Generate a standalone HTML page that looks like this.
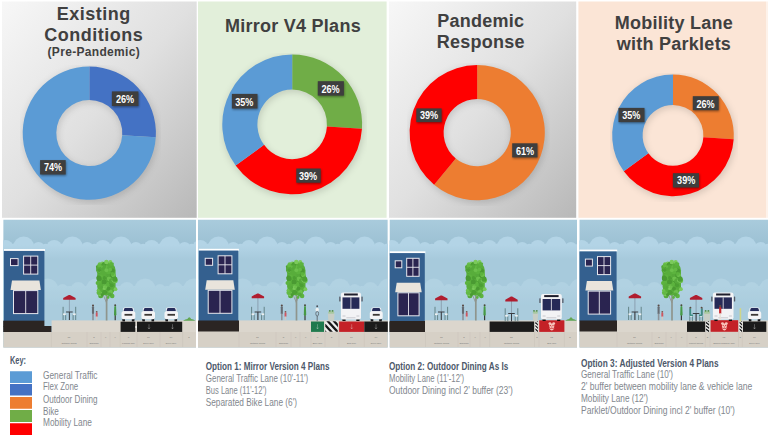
<!DOCTYPE html>
<html><head><meta charset="utf-8"><title>Mobility lane options</title>
<style>
html,body{margin:0;padding:0;background:#fff;}
body{width:768px;height:437px;overflow:hidden;position:relative;font-family:"Liberation Sans",sans-serif;}
svg{position:absolute;left:0;top:0;display:block}
.ttl{position:absolute;text-align:center;font-weight:bold;font-size:18px;line-height:21px;letter-spacing:0.25px;color:#404040;white-space:nowrap}
.ttl small{font-size:12px;line-height:15.6px;display:block;letter-spacing:0.12px}
.lb{font:bold 10.6px "Liberation Sans",sans-serif;fill:#fff}
.bh{font:bold 10.8px "Liberation Sans",sans-serif;fill:#4d586a}
.bt{font:11.5px "Liberation Sans",sans-serif;fill:#82878e}
.dn{font:2.3px "Liberation Sans",sans-serif;fill:#777}
.dl{font:2.3px "Liberation Sans",sans-serif;fill:#777}
</style></head><body>
<svg width="768" height="437" viewBox="0 0 768 437">
<defs>
<filter id="blur" x="-20%" y="-20%" width="140%" height="140%"><feGaussianBlur stdDeviation="3"/></filter>
<filter id="blur1" x="-30%" y="-30%" width="160%" height="160%"><feGaussianBlur stdDeviation="1.2"/></filter>
<linearGradient id="sk0" gradientUnits="userSpaceOnUse" x1="0" y1="220" x2="0" y2="246"><stop offset="0" stop-color="#a9cbdc"/><stop offset="1" stop-color="#9cc0d3"/></linearGradient>
<linearGradient id="sk1" gradientUnits="userSpaceOnUse" x1="0" y1="245" x2="0" y2="335"><stop offset="0" stop-color="#b3d4e6"/><stop offset="0.16" stop-color="#a7cadc"/><stop offset="1" stop-color="#a7cadc"/></linearGradient>
<linearGradient id="sk2" gradientUnits="userSpaceOnUse" x1="0" y1="286" x2="0" y2="326"><stop offset="0" stop-color="#b4d4e4"/><stop offset="0.5" stop-color="#abcdde"/><stop offset="1" stop-color="#abcdde"/></linearGradient>
<linearGradient id="gg" x1="0" y1="0" x2="1" y2="1"><stop offset="0" stop-color="#f7f7f7"/><stop offset="0.5" stop-color="#e0e0e0"/><stop offset="1" stop-color="#b8b8b8"/></linearGradient>
</defs>
<rect width="768" height="437" fill="#fff"/>
<rect x="2" y="1.5" width="194.7" height="216.3" fill="url(#gg)"/>
<rect x="198" y="1.5" width="188.6" height="216.3" fill="#e2efda"/>
<rect x="389" y="1.5" width="187.2" height="216.3" fill="url(#gg)"/>
<rect x="578.4" y="1.5" width="187.6" height="216.3" fill="#fbe5d6"/>
<rect x="766" y="1.5" width="2" height="216.3" fill="#fdf2ea"/>
<circle cx="90.3" cy="135.1" r="49.8" fill="none" stroke="#000" stroke-opacity="0.13" stroke-width="35.599999999999994" filter="url(#blur)"/>
<path d="M89.30 66.50A66.6 66.6 0 0 1 155.77 137.28L122.23 135.17A33 33 0 0 0 89.30 100.10Z" fill="#4472c4"/>
<path d="M155.77 137.28A66.6 66.6 0 1 1 89.30 66.50L89.30 100.10A33 33 0 1 0 122.23 135.17Z" fill="#5b9bd5"/>
<rect x="112.5" y="92.6" width="26.5" height="14.6" fill="#000" fill-opacity="0.4" filter="url(#blur1)"/><rect x="111.9" y="91.4" width="26.5" height="14.6" fill="#3e3e3e"/><text x="116.0" y="102.9" class="lb" textLength="18.2" lengthAdjust="spacingAndGlyphs">26%</text>
<rect x="40.7" y="161.3" width="25.6" height="14.4" fill="#000" fill-opacity="0.4" filter="url(#blur1)"/><rect x="40.1" y="160.1" width="25.6" height="14.4" fill="#3e3e3e"/><text x="43.9" y="170.7" class="lb" textLength="18.2" lengthAdjust="spacingAndGlyphs">74%</text>
<circle cx="293.2" cy="126.4" r="52.35" fill="none" stroke="#000" stroke-opacity="0.13" stroke-width="37.10000000000001" filter="url(#blur)"/>
<path d="M292.20 54.50A69.9 69.9 0 0 1 361.96 128.79L326.93 126.59A34.8 34.8 0 0 0 292.20 89.60Z" fill="#70ad47"/>
<path d="M361.96 128.79A69.9 69.9 0 0 1 235.65 165.49L264.05 144.85A34.8 34.8 0 0 0 326.93 126.59Z" fill="#ff0000"/>
<path d="M235.65 165.49A69.9 69.9 0 0 1 292.20 54.50L292.20 89.60A34.8 34.8 0 0 0 264.05 144.85Z" fill="#5b9bd5"/>
<rect x="318.4" y="82.4" width="26.1" height="14.4" fill="#000" fill-opacity="0.4" filter="url(#blur1)"/><rect x="317.8" y="81.2" width="26.1" height="14.4" fill="#3e3e3e"/><text x="321.5" y="92.7" class="lb" textLength="18.2" lengthAdjust="spacingAndGlyphs">26%</text>
<rect x="232.5" y="95.1" width="25.6" height="14.6" fill="#000" fill-opacity="0.4" filter="url(#blur1)"/><rect x="231.9" y="93.9" width="25.6" height="14.6" fill="#3e3e3e"/><text x="235.2" y="105.5" class="lb" textLength="18.2" lengthAdjust="spacingAndGlyphs">35%</text>
<rect x="296.9" y="169.7" width="24.4" height="14.2" fill="#000" fill-opacity="0.4" filter="url(#blur1)"/><rect x="296.3" y="168.5" width="24.4" height="14.2" fill="#3e3e3e"/><text x="299.0" y="179.8" class="lb" textLength="18.2" lengthAdjust="spacingAndGlyphs">39%</text>
<circle cx="478.2" cy="134.6" r="50.599999999999994" fill="none" stroke="#000" stroke-opacity="0.13" stroke-width="35.99999999999999" filter="url(#blur)"/>
<path d="M477.20 65.00A67.6 67.6 0 1 1 434.11 184.69L455.78 158.49A33.6 33.6 0 1 0 477.20 99.00Z" fill="#ed7d31"/>
<path d="M434.11 184.69A67.6 67.6 0 0 1 477.20 65.00L477.20 99.00A33.6 33.6 0 0 0 455.78 158.49Z" fill="#ff0000"/>
<rect x="416.9" y="109.6" width="25.3" height="13.7" fill="#000" fill-opacity="0.4" filter="url(#blur1)"/><rect x="416.3" y="108.4" width="25.3" height="13.7" fill="#3e3e3e"/><text x="420.0" y="119.3" class="lb" textLength="18.2" lengthAdjust="spacingAndGlyphs">39%</text>
<rect x="512.8" y="144.5" width="25.3" height="14.1" fill="#000" fill-opacity="0.4" filter="url(#blur1)"/><rect x="512.2" y="143.3" width="25.3" height="14.1" fill="#3e3e3e"/><text x="516.0" y="154.5" class="lb" textLength="18.2" lengthAdjust="spacingAndGlyphs">61%</text>
<circle cx="674" cy="137.4" r="45.599999999999994" fill="none" stroke="#000" stroke-opacity="0.13" stroke-width="32.4" filter="url(#blur)"/>
<path d="M673.00 74.60A60.8 60.8 0 0 1 733.68 139.22L703.34 137.31A30.4 30.4 0 0 0 673.00 105.00Z" fill="#ed7d31"/>
<path d="M733.68 139.22A60.8 60.8 0 0 1 623.81 171.14L648.41 153.27A30.4 30.4 0 0 0 703.34 137.31Z" fill="#ff0000"/>
<path d="M623.81 171.14A60.8 60.8 0 0 1 673.00 74.60L673.00 105.00A30.4 30.4 0 0 0 648.41 153.27Z" fill="#5b9bd5"/>
<rect x="693.4" y="97.4" width="25.9" height="14.0" fill="#000" fill-opacity="0.4" filter="url(#blur1)"/><rect x="692.8" y="96.2" width="25.9" height="14.0" fill="#3e3e3e"/><text x="696.4" y="107.6" class="lb" textLength="18.2" lengthAdjust="spacingAndGlyphs">26%</text>
<rect x="619.1" y="109.1" width="26.0" height="14.2" fill="#000" fill-opacity="0.4" filter="url(#blur1)"/><rect x="618.5" y="107.9" width="26.0" height="14.2" fill="#3e3e3e"/><text x="622.2" y="119.3" class="lb" textLength="18.2" lengthAdjust="spacingAndGlyphs">35%</text>
<rect x="673.5" y="174.4" width="26.1" height="14.3" fill="#000" fill-opacity="0.4" filter="url(#blur1)"/><rect x="672.9" y="173.2" width="26.1" height="14.3" fill="#3e3e3e"/><text x="677.1" y="183.8" class="lb" textLength="18.2" lengthAdjust="spacingAndGlyphs">39%</text>
<clipPath id="p3"><rect x="3.2" y="219.8" width="192.8" height="127.6"/></clipPath><g clip-path="url(#p3)"><rect x="3.2" y="219" width="192.8" height="129" fill="url(#sk0)"/><circle cx="-73.7" cy="246.9" r="10.5" fill="#b3d4e6"/><circle cx="-58.9" cy="248.3" r="6.3" fill="#b3d4e6"/><circle cx="-43.2" cy="248.0" r="8.0" fill="#b3d4e6"/><circle cx="-83.2" cy="247.6" r="4.0" fill="#b3d4e6"/><circle cx="-51.7" cy="248.0" r="4.2" fill="#b3d4e6"/><circle cx="-25.0" cy="246.9" r="10.5" fill="#b3d4e6"/><circle cx="-10.2" cy="248.3" r="6.3" fill="#b3d4e6"/><circle cx="5.5" cy="248.0" r="8.0" fill="#b3d4e6"/><circle cx="-34.5" cy="247.6" r="4.0" fill="#b3d4e6"/><circle cx="-3.0" cy="248.0" r="4.2" fill="#b3d4e6"/><circle cx="23.7" cy="246.9" r="10.5" fill="#b3d4e6"/><circle cx="38.5" cy="248.3" r="6.3" fill="#b3d4e6"/><circle cx="54.2" cy="248.0" r="8.0" fill="#b3d4e6"/><circle cx="14.2" cy="247.6" r="4.0" fill="#b3d4e6"/><circle cx="45.7" cy="248.0" r="4.2" fill="#b3d4e6"/><circle cx="72.4" cy="246.9" r="10.5" fill="#b3d4e6"/><circle cx="87.2" cy="248.3" r="6.3" fill="#b3d4e6"/><circle cx="102.9" cy="248.0" r="8.0" fill="#b3d4e6"/><circle cx="62.9" cy="247.6" r="4.0" fill="#b3d4e6"/><circle cx="94.4" cy="248.0" r="4.2" fill="#b3d4e6"/><circle cx="121.1" cy="246.9" r="10.5" fill="#b3d4e6"/><circle cx="135.9" cy="248.3" r="6.3" fill="#b3d4e6"/><circle cx="151.6" cy="248.0" r="8.0" fill="#b3d4e6"/><circle cx="111.6" cy="247.6" r="4.0" fill="#b3d4e6"/><circle cx="143.1" cy="248.0" r="4.2" fill="#b3d4e6"/><circle cx="169.8" cy="246.9" r="10.5" fill="#b3d4e6"/><circle cx="184.6" cy="248.3" r="6.3" fill="#b3d4e6"/><circle cx="200.3" cy="248.0" r="8.0" fill="#b3d4e6"/><circle cx="160.3" cy="247.6" r="4.0" fill="#b3d4e6"/><circle cx="191.8" cy="248.0" r="4.2" fill="#b3d4e6"/><circle cx="218.5" cy="246.9" r="10.5" fill="#b3d4e6"/><circle cx="233.3" cy="248.3" r="6.3" fill="#b3d4e6"/><circle cx="249.0" cy="248.0" r="8.0" fill="#b3d4e6"/><circle cx="209.0" cy="247.6" r="4.0" fill="#b3d4e6"/><circle cx="240.5" cy="248.0" r="4.2" fill="#b3d4e6"/><rect x="3.2" y="245" width="192.8" height="90" fill="url(#sk1)"/><g opacity="0.75"><circle cx="-49.7" cy="289.0" r="10.5" fill="#b4d4e4"/><circle cx="-34.9" cy="290.4" r="6.3" fill="#b4d4e4"/><circle cx="-19.2" cy="290.1" r="8.0" fill="#b4d4e4"/><circle cx="-59.2" cy="289.7" r="4.0" fill="#b4d4e4"/><circle cx="-27.7" cy="290.1" r="4.2" fill="#b4d4e4"/><circle cx="-1.0" cy="289.0" r="10.5" fill="#b4d4e4"/><circle cx="13.8" cy="290.4" r="6.3" fill="#b4d4e4"/><circle cx="29.5" cy="290.1" r="8.0" fill="#b4d4e4"/><circle cx="-10.5" cy="289.7" r="4.0" fill="#b4d4e4"/><circle cx="21.0" cy="290.1" r="4.2" fill="#b4d4e4"/><circle cx="47.7" cy="289.0" r="10.5" fill="#b4d4e4"/><circle cx="62.5" cy="290.4" r="6.3" fill="#b4d4e4"/><circle cx="78.2" cy="290.1" r="8.0" fill="#b4d4e4"/><circle cx="38.2" cy="289.7" r="4.0" fill="#b4d4e4"/><circle cx="69.7" cy="290.1" r="4.2" fill="#b4d4e4"/><circle cx="96.4" cy="289.0" r="10.5" fill="#b4d4e4"/><circle cx="111.2" cy="290.4" r="6.3" fill="#b4d4e4"/><circle cx="126.9" cy="290.1" r="8.0" fill="#b4d4e4"/><circle cx="86.9" cy="289.7" r="4.0" fill="#b4d4e4"/><circle cx="118.4" cy="290.1" r="4.2" fill="#b4d4e4"/><circle cx="145.1" cy="289.0" r="10.5" fill="#b4d4e4"/><circle cx="159.9" cy="290.4" r="6.3" fill="#b4d4e4"/><circle cx="175.6" cy="290.1" r="8.0" fill="#b4d4e4"/><circle cx="135.6" cy="289.7" r="4.0" fill="#b4d4e4"/><circle cx="167.1" cy="290.1" r="4.2" fill="#b4d4e4"/><circle cx="193.8" cy="289.0" r="10.5" fill="#b4d4e4"/><circle cx="208.6" cy="290.4" r="6.3" fill="#b4d4e4"/><circle cx="224.3" cy="290.1" r="8.0" fill="#b4d4e4"/><circle cx="184.3" cy="289.7" r="4.0" fill="#b4d4e4"/><circle cx="215.8" cy="290.1" r="4.2" fill="#b4d4e4"/><rect x="3.2" y="286.5" width="192.8" height="40" fill="url(#sk2)"/></g><rect x="51.6" y="320.4" width="144.4" height="12" fill="#dbd6cd"/><rect x="3.2" y="332" width="192.8" height="16" fill="#d6d0c6"/><rect x="3.9" y="249.1" width="41.1" height="2" fill="#fff"/><rect x="3.9" y="250.9" width="40.5" height="70.10000000000001" fill="#34608f"/><rect x="10.5" y="258.6" width="7.6" height="7.0" fill="#2a2450" stroke="#e8e8ee" stroke-width="1"/><rect x="23.6" y="256.1" width="14.2" height="18.0" fill="#2a2450" stroke="#e8e8ee" stroke-width="1"/><path d="M30.7 256.1V274.1M23.6 265.1H37.8" stroke="#e8e8ee" stroke-width="0.9"/><rect x="13.5" y="290.6" width="24.3" height="23" fill="#2a2450" stroke="#e8e8ee" stroke-width="1"/><path d="M25.7 290.6v23" stroke="#e8e8ee" stroke-width="0.9"/><path d="M12.0 280.6H39.4L40.9 290.1H10.5Z" fill="#e9e4dc"/><rect x="3" y="320.7" width="41.4" height="5.8" fill="#2b2523"/><rect x="3" y="326" width="48.4" height="6.0" fill="#2b2523"/><path d="M69.4 299V320" stroke="#8496a6" stroke-width="0.8"/><path d="M63.2 298.1L68.80000000000001 295H70.0L75.60000000000001 298.1V299.8H63.2Z" fill="#b01d2f"/><path d="M66.10000000000001 312H72.7" stroke="#3a3d42" stroke-width="1"/><path d="M69.4 312V320" stroke="#3a3d42" stroke-width="1"/><path d="M63.10000000000001 306.8V320M65.7 314.6V320" stroke="#57787a" stroke-width="0.85" fill="none"/><rect x="63.1" y="313.4" width="2.6" height="1.7" fill="#eef0f0"/><path d="M75.7 306.8V320M73.10000000000001 314.6V320" stroke="#57787a" stroke-width="0.85" fill="none"/><rect x="73.1" y="313.4" width="2.6" height="1.7" fill="#eef0f0"/><circle cx="93" cy="305.6" r="1.05" fill="#5a4a44"/><rect x="91.95" y="306.6" width="2.1" height="7.4" rx="0.6" fill="#666b72"/><rect x="92.2" y="313.6" width="1.6" height="6.6" fill="#8d9298"/><circle cx="96.7" cy="311.8" r="0.9" fill="#7a5546"/><rect x="95.75" y="312.6" width="1.9" height="4.2" rx="0.5" fill="#cf5560"/><rect x="96.05" y="316.6" width="1.3" height="3.2" fill="#dcc4bb"/><path d="M106.60000000000001 320.6V290" stroke="#8f958d" stroke-width="1.7"/><path d="M106.60000000000001 303L101.60000000000001 291M106.60000000000001 301.5L111.0 291" stroke="#8f958d" stroke-width="0.9" fill="none"/><rect x="97.2" y="261.5" width="18.4" height="34" rx="8.5" ry="9" fill="#58ad3b"/><circle cx="105.5" cy="281.7" r="2.6" fill="#7bca5b"/><circle cx="105.5" cy="292.3" r="1.6" fill="#4a9a32"/><circle cx="106.6" cy="284.2" r="2.4" fill="#4c9f33"/><circle cx="105.4" cy="266.6" r="2.1" fill="#63b944"/><circle cx="108.9" cy="282.9" r="1.9" fill="#7bca5b"/><circle cx="109.3" cy="283.7" r="1.5" fill="#4c9f33"/><circle cx="112.6" cy="263.8" r="1.3" fill="#5cb33e"/><circle cx="108.3" cy="289.5" r="1.8" fill="#55a93a"/><circle cx="112.8" cy="280.2" r="2.2" fill="#7bca5b"/><circle cx="109.3" cy="276.1" r="2.1" fill="#4a9a32"/><circle cx="98.6" cy="270.6" r="2.4" fill="#55a93a"/><circle cx="102.4" cy="264.0" r="2.4" fill="#7bca5b"/><circle cx="99.0" cy="272.0" r="1.4" fill="#4c9f33"/><circle cx="100.9" cy="294.3" r="2.0" fill="#63b944"/><circle cx="104.5" cy="264.1" r="2.2" fill="#4a9a32"/><circle cx="109.7" cy="273.6" r="1.7" fill="#4c9f33"/><circle cx="115.1" cy="288.8" r="1.5" fill="#5cb33e"/><circle cx="110.3" cy="261.9" r="2.0" fill="#7bca5b"/><circle cx="100.3" cy="281.6" r="1.9" fill="#5cb33e"/><circle cx="115.5" cy="289.2" r="1.9" fill="#7bca5b"/><circle cx="99.2" cy="276.6" r="1.6" fill="#6cc04c"/><circle cx="108.1" cy="297.4" r="1.3" fill="#5cb33e"/><circle cx="104.4" cy="292.3" r="2.2" fill="#4c9f33"/><circle cx="97.8" cy="266.8" r="1.9" fill="#4c9f33"/><circle cx="111.5" cy="273.3" r="1.7" fill="#4c9f33"/><circle cx="98.4" cy="269.0" r="2.2" fill="#4c9f33"/><circle cx="108.3" cy="274.9" r="1.9" fill="#55a93a"/><circle cx="106.1" cy="282.2" r="2.5" fill="#5cb33e"/><circle cx="108.8" cy="272.7" r="1.6" fill="#55a93a"/><circle cx="101.7" cy="268.3" r="2.3" fill="#55a93a"/><circle cx="100.7" cy="295.7" r="2.5" fill="#55a93a"/><circle cx="99.1" cy="279.9" r="1.7" fill="#63b944"/><circle cx="110.2" cy="270.8" r="2.5" fill="#55a93a"/><circle cx="106.2" cy="280.2" r="2.6" fill="#4c9f33"/><circle cx="99.4" cy="278.8" r="2.2" fill="#55a93a"/><circle cx="108.5" cy="271.6" r="2.6" fill="#5cb33e"/><circle cx="111.1" cy="264.0" r="1.9" fill="#5cb33e"/><circle cx="98.1" cy="267.8" r="1.8" fill="#55a93a"/><circle cx="99.6" cy="277.7" r="1.8" fill="#63b944"/><circle cx="110.0" cy="282.5" r="1.5" fill="#4c9f33"/><circle cx="114.4" cy="278.6" r="1.8" fill="#6cc04c"/><circle cx="109.0" cy="278.9" r="2.3" fill="#6cc04c"/><circle cx="99.6" cy="264.1" r="1.9" fill="#6cc04c"/><circle cx="110.9" cy="293.9" r="2.3" fill="#63b944"/><circle cx="103.4" cy="264.6" r="2.0" fill="#4c9f33"/><circle cx="113.4" cy="276.5" r="2.4" fill="#4a9a32"/><circle cx="106.4" cy="262.0" r="2.2" fill="#7bca5b"/><circle cx="108.0" cy="283.4" r="1.4" fill="#63b944"/><circle cx="99.2" cy="270.8" r="1.9" fill="#6cc04c"/><circle cx="104.3" cy="288.0" r="2.1" fill="#7bca5b"/><circle cx="105.7" cy="281.0" r="2.0" fill="#55a93a"/><circle cx="97.6" cy="283.1" r="2.0" fill="#5cb33e"/><circle cx="111.7" cy="285.3" r="2.0" fill="#4c9f33"/><circle cx="103.9" cy="266.7" r="2.2" fill="#55a93a"/><circle cx="100.2" cy="294.1" r="2.2" fill="#7bca5b"/><circle cx="106.4" cy="270.2" r="1.9" fill="#6cc04c"/><circle cx="100.7" cy="277.0" r="2.4" fill="#5cb33e"/><circle cx="113.5" cy="275.3" r="2.1" fill="#6cc04c"/><circle cx="100.9" cy="266.3" r="1.8" fill="#4a9a32"/><circle cx="99.1" cy="278.5" r="2.6" fill="#4a9a32"/><circle cx="104.8" cy="284.0" r="2.0" fill="#6cc04c"/><circle cx="110.5" cy="291.8" r="2.2" fill="#6cc04c"/><circle cx="110.3" cy="282.0" r="1.7" fill="#4a9a32"/><circle cx="107.6" cy="284.6" r="1.9" fill="#5cb33e"/><circle cx="101.5" cy="266.6" r="1.4" fill="#63b944"/><circle cx="99.2" cy="265.4" r="2.0" fill="#63b944"/><circle cx="112.2" cy="296.0" r="2.3" fill="#5cb33e"/><circle cx="112.5" cy="270.7" r="2.3" fill="#4a9a32"/><circle cx="105.9" cy="287.2" r="1.6" fill="#6cc04c"/><circle cx="111.6" cy="280.9" r="2.6" fill="#55a93a"/><circle cx="108.6" cy="288.7" r="1.9" fill="#4a9a32"/><circle cx="110.2" cy="269.6" r="1.9" fill="#63b944"/><circle cx="104.3" cy="277.7" r="1.6" fill="#4c9f33"/><circle cx="104.1" cy="282.0" r="2.5" fill="#4a9a32"/><circle cx="112.4" cy="273.9" r="1.8" fill="#5cb33e"/><circle cx="98.9" cy="292.7" r="2.4" fill="#63b944"/><circle cx="99.3" cy="270.2" r="1.8" fill="#4c9f33"/><circle cx="115.4" cy="280.8" r="2.4" fill="#6cc04c"/><circle cx="101.9" cy="287.4" r="1.3" fill="#55a93a"/><circle cx="98.6" cy="277.4" r="2.1" fill="#4a9a32"/><circle cx="102.2" cy="294.6" r="1.6" fill="#4a9a32"/><circle cx="98.2" cy="290.3" r="1.5" fill="#6cc04c"/><circle cx="109.9" cy="294.5" r="2.0" fill="#55a93a"/><circle cx="113.9" cy="280.2" r="2.2" fill="#7bca5b"/><circle cx="114.8" cy="279.2" r="2.6" fill="#4c9f33"/><circle cx="115.2" cy="305.2" r="1" fill="#4a4a3a"/><path d="M114.3 306.4Q115.2 305.6 116.10000000000001 306.4L116.4 314.5L115.7 316H114.7L114.0 314.5Z" fill="#479a45"/><rect x="114.60000000000001" y="315.6" width="1.2" height="4.6" fill="#3a3a36"/><rect x="120.6" y="321.7" width="14.7" height="10.2" fill="#1b1b1b"/><rect x="137" y="321.7" width="45.2" height="10.2" fill="#1b1b1b"/><rect x="135.3" y="326.2" width="1.7" height="1.6" fill="#f4f4f4"/><path d="M149 324.2v4.6M148 327.6l1 1.4l1-1.4" stroke="#e6e6e6" stroke-width="0.5" stroke-opacity="0.6" fill="none"/><path d="M172.5 324.2v4.6M171.5 327.6l1 1.4l1-1.4" stroke="#e6e6e6" stroke-width="0.5" stroke-opacity="0.6" fill="none"/><rect x="122.4" y="318" width="2.6" height="3.4" fill="#15161a"/><rect x="131.8" y="318" width="2.6" height="3.4" fill="#15161a"/><rect x="123.0" y="307.5" width="10.8" height="6" rx="1.6" fill="#eef0f4"/><path d="M123.6 311.3L124.1 308.9Q124.3 308.1 125.3 308.1H131.5Q132.5 308.1 132.7 308.9L133.2 311.3Z" fill="#252c5a"/><rect x="121.5" y="311.2" width="13.8" height="8" rx="1.9" fill="#f4f4f6"/><rect x="124.5" y="313.9" width="7.8" height="1.8" fill="#3c3836"/><rect x="142.3" y="318" width="2.6" height="3.4" fill="#15161a"/><rect x="151.5" y="318" width="2.6" height="3.4" fill="#15161a"/><rect x="142.9" y="307.5" width="10.6" height="6" rx="1.6" fill="#eef0f4"/><path d="M143.5 311.3L144.0 308.9Q144.2 308.1 145.2 308.1H151.2Q152.2 308.1 152.4 308.9L152.9 311.3Z" fill="#252c5a"/><rect x="141.4" y="311.2" width="13.6" height="8" rx="1.9" fill="#f4f4f6"/><rect x="144.4" y="313.9" width="7.6" height="1.8" fill="#3c3836"/><rect x="165.4" y="318" width="2.6" height="3.4" fill="#15161a"/><rect x="174.5" y="318" width="2.6" height="3.4" fill="#15161a"/><rect x="166.0" y="307.5" width="10.5" height="6" rx="1.6" fill="#eef0f4"/><path d="M166.6 311.3L167.1 308.9Q167.3 308.1 168.3 308.1H174.2Q175.2 308.1 175.4 308.9L175.9 311.3Z" fill="#252c5a"/><rect x="164.5" y="311.2" width="13.5" height="8" rx="1.9" fill="#f4f4f6"/><rect x="167.5" y="313.9" width="7.5" height="1.8" fill="#3c3836"/><path d="M183.0 320.7Q185.5 319.4 187.4 319Q189.3 315.6 191.2 319Q193.1 319.4 195.6 320.7Z" fill="#62a652"/><path d="M51.4 332V347" stroke="#c9c3b8" stroke-width="0.5"/><path d="M87 332V347" stroke="#c9c3b8" stroke-width="0.5"/><path d="M101 332V347" stroke="#c9c3b8" stroke-width="0.5"/><path d="M110 332V347" stroke="#c9c3b8" stroke-width="0.5"/><path d="M120.2 332V347" stroke="#c9c3b8" stroke-width="0.5"/><path d="M137 332V347" stroke="#c9c3b8" stroke-width="0.5"/><path d="M160 332V347" stroke="#c9c3b8" stroke-width="0.5"/><path d="M182.6 332V347" stroke="#c9c3b8" stroke-width="0.5"/><text x="69" y="338" class="dn" text-anchor="middle">15'</text><text x="69" y="343.6" class="dl" text-anchor="middle">Outdoor dining</text><text x="94" y="338" class="dn" text-anchor="middle">8'</text><text x="94" y="343.6" class="dl" text-anchor="middle">Sidewalk</text><text x="105.5" y="338" class="dn" text-anchor="middle">4'</text><text x="115" y="338" class="dn" text-anchor="middle">4'</text><text x="128.5" y="338" class="dn" text-anchor="middle">7'</text><text x="128.5" y="343.6" class="dl" text-anchor="middle">Parking lane</text><text x="148.5" y="338" class="dn" text-anchor="middle">10'</text><text x="148.5" y="343.6" class="dl" text-anchor="middle">Drive lane</text><text x="171" y="338" class="dn" text-anchor="middle">10'</text><text x="171" y="343.6" class="dl" text-anchor="middle">Drive lane</text><text x="189" y="338" class="dn" text-anchor="middle">5'</text></g><clipPath id="p198"><rect x="198" y="219.8" width="189.8" height="127.6"/></clipPath><g clip-path="url(#p198)"><rect x="198" y="219" width="189.8" height="129" fill="url(#sk0)"/><circle cx="121.1" cy="246.9" r="10.5" fill="#b3d4e6"/><circle cx="135.9" cy="248.3" r="6.3" fill="#b3d4e6"/><circle cx="151.6" cy="248.0" r="8.0" fill="#b3d4e6"/><circle cx="111.6" cy="247.6" r="4.0" fill="#b3d4e6"/><circle cx="143.1" cy="248.0" r="4.2" fill="#b3d4e6"/><circle cx="169.8" cy="246.9" r="10.5" fill="#b3d4e6"/><circle cx="184.6" cy="248.3" r="6.3" fill="#b3d4e6"/><circle cx="200.3" cy="248.0" r="8.0" fill="#b3d4e6"/><circle cx="160.3" cy="247.6" r="4.0" fill="#b3d4e6"/><circle cx="191.8" cy="248.0" r="4.2" fill="#b3d4e6"/><circle cx="218.5" cy="246.9" r="10.5" fill="#b3d4e6"/><circle cx="233.3" cy="248.3" r="6.3" fill="#b3d4e6"/><circle cx="249.0" cy="248.0" r="8.0" fill="#b3d4e6"/><circle cx="209.0" cy="247.6" r="4.0" fill="#b3d4e6"/><circle cx="240.5" cy="248.0" r="4.2" fill="#b3d4e6"/><circle cx="267.2" cy="246.9" r="10.5" fill="#b3d4e6"/><circle cx="282.0" cy="248.3" r="6.3" fill="#b3d4e6"/><circle cx="297.7" cy="248.0" r="8.0" fill="#b3d4e6"/><circle cx="257.7" cy="247.6" r="4.0" fill="#b3d4e6"/><circle cx="289.2" cy="248.0" r="4.2" fill="#b3d4e6"/><circle cx="315.9" cy="246.9" r="10.5" fill="#b3d4e6"/><circle cx="330.7" cy="248.3" r="6.3" fill="#b3d4e6"/><circle cx="346.4" cy="248.0" r="8.0" fill="#b3d4e6"/><circle cx="306.4" cy="247.6" r="4.0" fill="#b3d4e6"/><circle cx="337.9" cy="248.0" r="4.2" fill="#b3d4e6"/><circle cx="364.6" cy="246.9" r="10.5" fill="#b3d4e6"/><circle cx="379.4" cy="248.3" r="6.3" fill="#b3d4e6"/><circle cx="395.1" cy="248.0" r="8.0" fill="#b3d4e6"/><circle cx="355.1" cy="247.6" r="4.0" fill="#b3d4e6"/><circle cx="386.6" cy="248.0" r="4.2" fill="#b3d4e6"/><circle cx="413.3" cy="246.9" r="10.5" fill="#b3d4e6"/><circle cx="428.1" cy="248.3" r="6.3" fill="#b3d4e6"/><circle cx="443.8" cy="248.0" r="8.0" fill="#b3d4e6"/><circle cx="403.8" cy="247.6" r="4.0" fill="#b3d4e6"/><circle cx="435.3" cy="248.0" r="4.2" fill="#b3d4e6"/><rect x="198" y="245" width="189.8" height="90" fill="url(#sk1)"/><g opacity="0.75"><circle cx="145.1" cy="289.0" r="10.5" fill="#b4d4e4"/><circle cx="159.9" cy="290.4" r="6.3" fill="#b4d4e4"/><circle cx="175.6" cy="290.1" r="8.0" fill="#b4d4e4"/><circle cx="135.6" cy="289.7" r="4.0" fill="#b4d4e4"/><circle cx="167.1" cy="290.1" r="4.2" fill="#b4d4e4"/><circle cx="193.8" cy="289.0" r="10.5" fill="#b4d4e4"/><circle cx="208.6" cy="290.4" r="6.3" fill="#b4d4e4"/><circle cx="224.3" cy="290.1" r="8.0" fill="#b4d4e4"/><circle cx="184.3" cy="289.7" r="4.0" fill="#b4d4e4"/><circle cx="215.8" cy="290.1" r="4.2" fill="#b4d4e4"/><circle cx="242.5" cy="289.0" r="10.5" fill="#b4d4e4"/><circle cx="257.3" cy="290.4" r="6.3" fill="#b4d4e4"/><circle cx="273.0" cy="290.1" r="8.0" fill="#b4d4e4"/><circle cx="233.0" cy="289.7" r="4.0" fill="#b4d4e4"/><circle cx="264.5" cy="290.1" r="4.2" fill="#b4d4e4"/><circle cx="291.2" cy="289.0" r="10.5" fill="#b4d4e4"/><circle cx="306.0" cy="290.4" r="6.3" fill="#b4d4e4"/><circle cx="321.7" cy="290.1" r="8.0" fill="#b4d4e4"/><circle cx="281.7" cy="289.7" r="4.0" fill="#b4d4e4"/><circle cx="313.2" cy="290.1" r="4.2" fill="#b4d4e4"/><circle cx="339.9" cy="289.0" r="10.5" fill="#b4d4e4"/><circle cx="354.7" cy="290.4" r="6.3" fill="#b4d4e4"/><circle cx="370.4" cy="290.1" r="8.0" fill="#b4d4e4"/><circle cx="330.4" cy="289.7" r="4.0" fill="#b4d4e4"/><circle cx="361.9" cy="290.1" r="4.2" fill="#b4d4e4"/><circle cx="388.6" cy="289.0" r="10.5" fill="#b4d4e4"/><circle cx="403.4" cy="290.4" r="6.3" fill="#b4d4e4"/><circle cx="419.1" cy="290.1" r="8.0" fill="#b4d4e4"/><circle cx="379.1" cy="289.7" r="4.0" fill="#b4d4e4"/><circle cx="410.6" cy="290.1" r="4.2" fill="#b4d4e4"/><rect x="198" y="286.5" width="189.8" height="40" fill="url(#sk2)"/></g><rect x="198" y="320.4" width="189.8" height="12" fill="#dbd6cd"/><rect x="198" y="332" width="189.8" height="16" fill="#d6d0c6"/><rect x="198.8" y="248.8" width="40.1" height="2" fill="#fff"/><rect x="198.8" y="250.60000000000002" width="39.5" height="70.39999999999999" fill="#34608f"/><rect x="205.2" y="258.3" width="7.4" height="7.0" fill="#2a2450" stroke="#e8e8ee" stroke-width="1"/><rect x="218.1" y="255.8" width="13.8" height="18.0" fill="#2a2450" stroke="#e8e8ee" stroke-width="1"/><path d="M225.0 255.8V273.8M218.1 264.8H231.9" stroke="#e8e8ee" stroke-width="0.9"/><rect x="208.2" y="290.3" width="23.7" height="23" fill="#2a2450" stroke="#e8e8ee" stroke-width="1"/><path d="M220.0 290.3v23" stroke="#e8e8ee" stroke-width="0.9"/><path d="M206.7 280.3H233.3L234.8 289.8H205.2Z" fill="#e9e4dc"/><rect x="198" y="320.5" width="41.0" height="11.0" fill="#2b2523"/><path d="M257.9 297.4V320" stroke="#8496a6" stroke-width="0.8"/><path d="M251.7 296.5L257.29999999999995 293.4H258.5L264.09999999999997 296.5V298.2H251.7Z" fill="#b01d2f"/><path d="M254.59999999999997 312H261.2" stroke="#3a3d42" stroke-width="1"/><path d="M257.9 312V320" stroke="#3a3d42" stroke-width="1"/><path d="M251.59999999999997 306.8V320M254.2 314.6V320" stroke="#57787a" stroke-width="0.85" fill="none"/><rect x="251.6" y="313.4" width="2.6" height="1.7" fill="#eef0f0"/><path d="M264.2 306.8V320M261.59999999999997 314.6V320" stroke="#57787a" stroke-width="0.85" fill="none"/><rect x="261.6" y="313.4" width="2.6" height="1.7" fill="#eef0f0"/><circle cx="281.8" cy="305.6" r="1.05" fill="#5a4a44"/><rect x="280.75" y="306.6" width="2.1" height="7.4" rx="0.6" fill="#666b72"/><rect x="281.0" y="313.6" width="1.6" height="6.6" fill="#8d9298"/><circle cx="285.5" cy="311.8" r="0.9" fill="#7a5546"/><rect x="284.55" y="312.6" width="1.9" height="4.2" rx="0.5" fill="#cf5560"/><rect x="284.85" y="316.6" width="1.3" height="3.2" fill="#dcc4bb"/><path d="M296.5 320.6V290" stroke="#8f958d" stroke-width="1.7"/><path d="M296.5 303L291.5 291M296.5 301.5L300.90000000000003 291" stroke="#8f958d" stroke-width="0.9" fill="none"/><rect x="287.1" y="261.5" width="18.4" height="34" rx="8.5" ry="9" fill="#58ad3b"/><circle cx="295.4" cy="281.7" r="2.6" fill="#7bca5b"/><circle cx="295.4" cy="292.3" r="1.6" fill="#4a9a32"/><circle cx="296.5" cy="284.2" r="2.4" fill="#4c9f33"/><circle cx="295.3" cy="266.6" r="2.1" fill="#63b944"/><circle cx="298.8" cy="282.9" r="1.9" fill="#7bca5b"/><circle cx="299.2" cy="283.7" r="1.5" fill="#4c9f33"/><circle cx="302.5" cy="263.8" r="1.3" fill="#5cb33e"/><circle cx="298.2" cy="289.5" r="1.8" fill="#55a93a"/><circle cx="302.7" cy="280.2" r="2.2" fill="#7bca5b"/><circle cx="299.2" cy="276.1" r="2.1" fill="#4a9a32"/><circle cx="288.5" cy="270.6" r="2.4" fill="#55a93a"/><circle cx="292.3" cy="264.0" r="2.4" fill="#7bca5b"/><circle cx="288.9" cy="272.0" r="1.4" fill="#4c9f33"/><circle cx="290.8" cy="294.3" r="2.0" fill="#63b944"/><circle cx="294.4" cy="264.1" r="2.2" fill="#4a9a32"/><circle cx="299.6" cy="273.6" r="1.7" fill="#4c9f33"/><circle cx="305.0" cy="288.8" r="1.5" fill="#5cb33e"/><circle cx="300.2" cy="261.9" r="2.0" fill="#7bca5b"/><circle cx="290.2" cy="281.6" r="1.9" fill="#5cb33e"/><circle cx="305.4" cy="289.2" r="1.9" fill="#7bca5b"/><circle cx="289.1" cy="276.6" r="1.6" fill="#6cc04c"/><circle cx="298.0" cy="297.4" r="1.3" fill="#5cb33e"/><circle cx="294.3" cy="292.3" r="2.2" fill="#4c9f33"/><circle cx="287.7" cy="266.8" r="1.9" fill="#4c9f33"/><circle cx="301.4" cy="273.3" r="1.7" fill="#4c9f33"/><circle cx="288.3" cy="269.0" r="2.2" fill="#4c9f33"/><circle cx="298.2" cy="274.9" r="1.9" fill="#55a93a"/><circle cx="296.0" cy="282.2" r="2.5" fill="#5cb33e"/><circle cx="298.7" cy="272.7" r="1.6" fill="#55a93a"/><circle cx="291.6" cy="268.3" r="2.3" fill="#55a93a"/><circle cx="290.6" cy="295.7" r="2.5" fill="#55a93a"/><circle cx="289.0" cy="279.9" r="1.7" fill="#63b944"/><circle cx="300.1" cy="270.8" r="2.5" fill="#55a93a"/><circle cx="296.1" cy="280.2" r="2.6" fill="#4c9f33"/><circle cx="289.3" cy="278.8" r="2.2" fill="#55a93a"/><circle cx="298.4" cy="271.6" r="2.6" fill="#5cb33e"/><circle cx="301.0" cy="264.0" r="1.9" fill="#5cb33e"/><circle cx="288.0" cy="267.8" r="1.8" fill="#55a93a"/><circle cx="289.5" cy="277.7" r="1.8" fill="#63b944"/><circle cx="299.9" cy="282.5" r="1.5" fill="#4c9f33"/><circle cx="304.3" cy="278.6" r="1.8" fill="#6cc04c"/><circle cx="298.9" cy="278.9" r="2.3" fill="#6cc04c"/><circle cx="289.5" cy="264.1" r="1.9" fill="#6cc04c"/><circle cx="300.8" cy="293.9" r="2.3" fill="#63b944"/><circle cx="293.3" cy="264.6" r="2.0" fill="#4c9f33"/><circle cx="303.3" cy="276.5" r="2.4" fill="#4a9a32"/><circle cx="296.3" cy="262.0" r="2.2" fill="#7bca5b"/><circle cx="297.9" cy="283.4" r="1.4" fill="#63b944"/><circle cx="289.1" cy="270.8" r="1.9" fill="#6cc04c"/><circle cx="294.2" cy="288.0" r="2.1" fill="#7bca5b"/><circle cx="295.6" cy="281.0" r="2.0" fill="#55a93a"/><circle cx="287.5" cy="283.1" r="2.0" fill="#5cb33e"/><circle cx="301.6" cy="285.3" r="2.0" fill="#4c9f33"/><circle cx="293.8" cy="266.7" r="2.2" fill="#55a93a"/><circle cx="290.1" cy="294.1" r="2.2" fill="#7bca5b"/><circle cx="296.3" cy="270.2" r="1.9" fill="#6cc04c"/><circle cx="290.6" cy="277.0" r="2.4" fill="#5cb33e"/><circle cx="303.4" cy="275.3" r="2.1" fill="#6cc04c"/><circle cx="290.8" cy="266.3" r="1.8" fill="#4a9a32"/><circle cx="289.0" cy="278.5" r="2.6" fill="#4a9a32"/><circle cx="294.7" cy="284.0" r="2.0" fill="#6cc04c"/><circle cx="300.4" cy="291.8" r="2.2" fill="#6cc04c"/><circle cx="300.2" cy="282.0" r="1.7" fill="#4a9a32"/><circle cx="297.5" cy="284.6" r="1.9" fill="#5cb33e"/><circle cx="291.4" cy="266.6" r="1.4" fill="#63b944"/><circle cx="289.1" cy="265.4" r="2.0" fill="#63b944"/><circle cx="302.1" cy="296.0" r="2.3" fill="#5cb33e"/><circle cx="302.4" cy="270.7" r="2.3" fill="#4a9a32"/><circle cx="295.8" cy="287.2" r="1.6" fill="#6cc04c"/><circle cx="301.5" cy="280.9" r="2.6" fill="#55a93a"/><circle cx="298.5" cy="288.7" r="1.9" fill="#4a9a32"/><circle cx="300.1" cy="269.6" r="1.9" fill="#63b944"/><circle cx="294.2" cy="277.7" r="1.6" fill="#4c9f33"/><circle cx="294.0" cy="282.0" r="2.5" fill="#4a9a32"/><circle cx="302.3" cy="273.9" r="1.8" fill="#5cb33e"/><circle cx="288.8" cy="292.7" r="2.4" fill="#63b944"/><circle cx="289.2" cy="270.2" r="1.8" fill="#4c9f33"/><circle cx="305.3" cy="280.8" r="2.4" fill="#6cc04c"/><circle cx="291.8" cy="287.4" r="1.3" fill="#55a93a"/><circle cx="288.5" cy="277.4" r="2.1" fill="#4a9a32"/><circle cx="292.1" cy="294.6" r="1.6" fill="#4a9a32"/><circle cx="288.1" cy="290.3" r="1.5" fill="#6cc04c"/><circle cx="299.8" cy="294.5" r="2.0" fill="#55a93a"/><circle cx="303.8" cy="280.2" r="2.2" fill="#7bca5b"/><circle cx="304.7" cy="279.2" r="2.6" fill="#4c9f33"/><circle cx="305" cy="305.2" r="1" fill="#4a4a3a"/><path d="M304.1 306.4Q305 305.6 305.9 306.4L306.2 314.5L305.5 316H304.5L303.8 314.5Z" fill="#479a45"/><rect x="304.4" y="315.6" width="1.2" height="4.6" fill="#3a3a36"/><rect x="311" y="321.5" width="13.0" height="10.4" fill="#1f7a4e"/><path d="M317.5 324.2v4.6M316.5 327.6l1 1.4l1-1.4" stroke="#e6e6e6" stroke-width="0.5" stroke-opacity="0.6" fill="none"/><clipPath id="c3253"><rect x="325.3" y="321.2" width="12.599999999999966" height="10.6"/></clipPath><g clip-path="url(#c3253)"><rect x="325.3" y="321" width="12.599999999999966" height="11" fill="#eeeeee"/><path d="M314.8 320.5L325.8 332.5" stroke="#161616" stroke-width="2.3"/><path d="M321.0 320.5L332.0 332.5" stroke="#161616" stroke-width="2.3"/><path d="M327.2 320.5L338.2 332.5" stroke="#161616" stroke-width="2.3"/><path d="M333.4 320.5L344.4 332.5" stroke="#161616" stroke-width="2.3"/><path d="M339.6 320.5L350.6 332.5" stroke="#161616" stroke-width="2.3"/></g><rect x="339.1" y="321.5" width="25.2" height="10.4" fill="#c42127"/><path d="M351.7 324.2v4.6M350.7 327.6l1 1.4l1-1.4" stroke="#e6e6e6" stroke-width="0.5" stroke-opacity="0.6" fill="none"/><rect x="364.3" y="321.5" width="23.7" height="10.4" fill="#1b1b1b"/><path d="M376 324.2v4.6M375 327.6l1 1.4l1-1.4" stroke="#e6e6e6" stroke-width="0.5" stroke-opacity="0.6" fill="none"/><circle cx="317.2" cy="306.2" r="0.95" fill="#4b4f58"/><ellipse cx="317.2" cy="309.7" rx="1.7" ry="1.9" fill="#eef0f0"/><ellipse cx="317.2" cy="313.7" rx="1.4" ry="2.3" fill="none" stroke="#50565c" stroke-width="0.7"/><path d="M317.2 316V321.2" stroke="#50565c" stroke-width="0.8"/><ellipse cx="331.2" cy="312.6" rx="3.1" ry="1.9" fill="#a8c8a0"/><circle cx="329.8" cy="310.8" r="0.9" fill="#4f8a4a"/><circle cx="332.6" cy="310.8" r="0.9" fill="#4f8a4a"/><path d="M327.8 313.8H334.6L334.0 321H328.4Z" fill="#c8cec6"/><rect x="342.4" y="317.5" width="3.2" height="3.5" fill="#111"/><rect x="356.3" y="317.5" width="3.2" height="3.5" fill="#111"/><rect x="340.9" y="292.4" width="20.1" height="27.2" rx="2" fill="#f3f3f5"/><rect x="344.1" y="293.5" width="13.7" height="2" fill="#1d1d2b"/><rect x="342.5" y="297.4" width="16.9" height="11.4" fill="#262a57"/><path d="M350.9 297.4v11.4" stroke="#f1f1f3" stroke-width="0.8"/><rect x="342.5" y="315.4" width="3" height="1.2" fill="#cfcfd4"/><rect x="356.4" y="315.4" width="3" height="1.2" fill="#cfcfd4"/><rect x="346.4" y="317" width="9.1" height="1.4" fill="#d5d5da"/><rect x="339.2" y="296.6" width="1.3" height="4.8" rx="0.5" fill="#555a66"/><rect x="361.4" y="296.6" width="1.3" height="4.8" rx="0.5" fill="#555a66"/><rect x="370.7" y="318" width="2.6" height="3.4" fill="#15161a"/><rect x="379.2" y="318" width="2.6" height="3.4" fill="#15161a"/><rect x="371.3" y="307.5" width="9.9" height="6" rx="1.6" fill="#eef0f4"/><path d="M371.9 311.3L372.4 308.9Q372.6 308.1 373.6 308.1H378.9Q379.9 308.1 380.1 308.9L380.6 311.3Z" fill="#252c5a"/><rect x="369.8" y="311.2" width="12.9" height="8" rx="1.9" fill="#f4f4f6"/><rect x="372.8" y="313.9" width="6.9" height="1.8" fill="#3c3836"/><path d="M239 332V347" stroke="#c9c3b8" stroke-width="0.5"/><path d="M276 332V347" stroke="#c9c3b8" stroke-width="0.5"/><path d="M291 332V347" stroke="#c9c3b8" stroke-width="0.5"/><path d="M300 332V347" stroke="#c9c3b8" stroke-width="0.5"/><path d="M311 332V347" stroke="#c9c3b8" stroke-width="0.5"/><path d="M325 332V347" stroke="#c9c3b8" stroke-width="0.5"/><path d="M339 332V347" stroke="#c9c3b8" stroke-width="0.5"/><path d="M364.3 332V347" stroke="#c9c3b8" stroke-width="0.5"/><text x="257.5" y="338" class="dn" text-anchor="middle">15'</text><text x="257.5" y="343.6" class="dl" text-anchor="middle">Outdoor dining</text><text x="283.5" y="338" class="dn" text-anchor="middle">8'</text><text x="283.5" y="343.6" class="dl" text-anchor="middle">Sidewalk</text><text x="295.5" y="338" class="dn" text-anchor="middle">4'</text><text x="305.5" y="338" class="dn" text-anchor="middle">4'</text><text x="317.5" y="338" class="dn" text-anchor="middle">6'</text><text x="317.5" y="343.6" class="dl" text-anchor="middle">Bike lane</text><text x="331.5" y="338" class="dn" text-anchor="middle">3'</text><text x="351.5" y="338" class="dn" text-anchor="middle">11'</text><text x="351.5" y="343.6" class="dl" text-anchor="middle">Bus lane</text><text x="376" y="338" class="dn" text-anchor="middle">10'</text><text x="376" y="343.6" class="dl" text-anchor="middle">Drive lane</text></g><clipPath id="p389"><rect x="389.5" y="219.8" width="187.5" height="127.6"/></clipPath><g clip-path="url(#p389)"><rect x="389.5" y="219" width="187.5" height="129" fill="url(#sk0)"/><circle cx="312.6" cy="246.9" r="10.5" fill="#b3d4e6"/><circle cx="327.4" cy="248.3" r="6.3" fill="#b3d4e6"/><circle cx="343.1" cy="248.0" r="8.0" fill="#b3d4e6"/><circle cx="303.1" cy="247.6" r="4.0" fill="#b3d4e6"/><circle cx="334.6" cy="248.0" r="4.2" fill="#b3d4e6"/><circle cx="361.3" cy="246.9" r="10.5" fill="#b3d4e6"/><circle cx="376.1" cy="248.3" r="6.3" fill="#b3d4e6"/><circle cx="391.8" cy="248.0" r="8.0" fill="#b3d4e6"/><circle cx="351.8" cy="247.6" r="4.0" fill="#b3d4e6"/><circle cx="383.3" cy="248.0" r="4.2" fill="#b3d4e6"/><circle cx="410.0" cy="246.9" r="10.5" fill="#b3d4e6"/><circle cx="424.8" cy="248.3" r="6.3" fill="#b3d4e6"/><circle cx="440.5" cy="248.0" r="8.0" fill="#b3d4e6"/><circle cx="400.5" cy="247.6" r="4.0" fill="#b3d4e6"/><circle cx="432.0" cy="248.0" r="4.2" fill="#b3d4e6"/><circle cx="458.7" cy="246.9" r="10.5" fill="#b3d4e6"/><circle cx="473.5" cy="248.3" r="6.3" fill="#b3d4e6"/><circle cx="489.2" cy="248.0" r="8.0" fill="#b3d4e6"/><circle cx="449.2" cy="247.6" r="4.0" fill="#b3d4e6"/><circle cx="480.7" cy="248.0" r="4.2" fill="#b3d4e6"/><circle cx="507.4" cy="246.9" r="10.5" fill="#b3d4e6"/><circle cx="522.2" cy="248.3" r="6.3" fill="#b3d4e6"/><circle cx="537.9" cy="248.0" r="8.0" fill="#b3d4e6"/><circle cx="497.9" cy="247.6" r="4.0" fill="#b3d4e6"/><circle cx="529.4" cy="248.0" r="4.2" fill="#b3d4e6"/><circle cx="556.1" cy="246.9" r="10.5" fill="#b3d4e6"/><circle cx="570.9" cy="248.3" r="6.3" fill="#b3d4e6"/><circle cx="586.6" cy="248.0" r="8.0" fill="#b3d4e6"/><circle cx="546.6" cy="247.6" r="4.0" fill="#b3d4e6"/><circle cx="578.1" cy="248.0" r="4.2" fill="#b3d4e6"/><circle cx="604.8" cy="246.9" r="10.5" fill="#b3d4e6"/><circle cx="619.6" cy="248.3" r="6.3" fill="#b3d4e6"/><circle cx="635.3" cy="248.0" r="8.0" fill="#b3d4e6"/><circle cx="595.3" cy="247.6" r="4.0" fill="#b3d4e6"/><circle cx="626.8" cy="248.0" r="4.2" fill="#b3d4e6"/><rect x="389.5" y="245" width="187.5" height="90" fill="url(#sk1)"/><g opacity="0.75"><circle cx="336.6" cy="289.0" r="10.5" fill="#b4d4e4"/><circle cx="351.4" cy="290.4" r="6.3" fill="#b4d4e4"/><circle cx="367.1" cy="290.1" r="8.0" fill="#b4d4e4"/><circle cx="327.1" cy="289.7" r="4.0" fill="#b4d4e4"/><circle cx="358.6" cy="290.1" r="4.2" fill="#b4d4e4"/><circle cx="385.3" cy="289.0" r="10.5" fill="#b4d4e4"/><circle cx="400.1" cy="290.4" r="6.3" fill="#b4d4e4"/><circle cx="415.8" cy="290.1" r="8.0" fill="#b4d4e4"/><circle cx="375.8" cy="289.7" r="4.0" fill="#b4d4e4"/><circle cx="407.3" cy="290.1" r="4.2" fill="#b4d4e4"/><circle cx="434.0" cy="289.0" r="10.5" fill="#b4d4e4"/><circle cx="448.8" cy="290.4" r="6.3" fill="#b4d4e4"/><circle cx="464.5" cy="290.1" r="8.0" fill="#b4d4e4"/><circle cx="424.5" cy="289.7" r="4.0" fill="#b4d4e4"/><circle cx="456.0" cy="290.1" r="4.2" fill="#b4d4e4"/><circle cx="482.7" cy="289.0" r="10.5" fill="#b4d4e4"/><circle cx="497.5" cy="290.4" r="6.3" fill="#b4d4e4"/><circle cx="513.2" cy="290.1" r="8.0" fill="#b4d4e4"/><circle cx="473.2" cy="289.7" r="4.0" fill="#b4d4e4"/><circle cx="504.7" cy="290.1" r="4.2" fill="#b4d4e4"/><circle cx="531.4" cy="289.0" r="10.5" fill="#b4d4e4"/><circle cx="546.2" cy="290.4" r="6.3" fill="#b4d4e4"/><circle cx="561.9" cy="290.1" r="8.0" fill="#b4d4e4"/><circle cx="521.9" cy="289.7" r="4.0" fill="#b4d4e4"/><circle cx="553.4" cy="290.1" r="4.2" fill="#b4d4e4"/><circle cx="580.1" cy="289.0" r="10.5" fill="#b4d4e4"/><circle cx="594.9" cy="290.4" r="6.3" fill="#b4d4e4"/><circle cx="610.6" cy="290.1" r="8.0" fill="#b4d4e4"/><circle cx="570.6" cy="289.7" r="4.0" fill="#b4d4e4"/><circle cx="602.1" cy="290.1" r="4.2" fill="#b4d4e4"/><rect x="389.5" y="286.5" width="187.5" height="40" fill="url(#sk2)"/></g><rect x="389.5" y="320.4" width="187.5" height="12" fill="#dbd6cd"/><rect x="389.5" y="332" width="187.5" height="16" fill="#d6d0c6"/><rect x="389" y="321.5" width="1.0" height="10.4" fill="#1b1b1b"/><rect x="389.5" y="251.3" width="35.90000000000001" height="2" fill="#fff"/><rect x="389.5" y="253.10000000000002" width="35.30000000000001" height="67.89999999999999" fill="#34608f"/><rect x="395.2" y="260.8" width="6.6" height="7.0" fill="#2a2450" stroke="#e8e8ee" stroke-width="1"/><rect x="406.7" y="258.3" width="12.4" height="18.0" fill="#2a2450" stroke="#e8e8ee" stroke-width="1"/><path d="M412.9 258.3V276.3M406.7 267.3H419.1" stroke="#e8e8ee" stroke-width="0.9"/><rect x="397.9" y="292.8" width="21.2" height="23" fill="#2a2450" stroke="#e8e8ee" stroke-width="1"/><path d="M408.5 292.8v23" stroke="#e8e8ee" stroke-width="0.9"/><path d="M396.7 282.8H420.2L421.7 292.3H395.2Z" fill="#e9e4dc"/><rect x="389.5" y="321" width="35.5" height="11.0" fill="#2b2523"/><path d="M441.3 299.4V320" stroke="#8496a6" stroke-width="0.8"/><path d="M435.1 298.5L440.7 295.4H441.90000000000003L447.5 298.5V300.2H435.1Z" fill="#b01d2f"/><path d="M438.0 312H444.6" stroke="#3a3d42" stroke-width="1"/><path d="M441.3 312V320" stroke="#3a3d42" stroke-width="1"/><path d="M435.0 306.8V320M437.6 314.6V320" stroke="#57787a" stroke-width="0.85" fill="none"/><rect x="435.0" y="313.4" width="2.6" height="1.7" fill="#eef0f0"/><path d="M447.6 306.8V320M445.0 314.6V320" stroke="#57787a" stroke-width="0.85" fill="none"/><rect x="445.0" y="313.4" width="2.6" height="1.7" fill="#eef0f0"/><circle cx="463" cy="305.6" r="1.05" fill="#5a4a44"/><rect x="461.95" y="306.6" width="2.1" height="7.4" rx="0.6" fill="#666b72"/><rect x="462.2" y="313.6" width="1.6" height="6.6" fill="#8d9298"/><circle cx="466.7" cy="311.8" r="0.9" fill="#7a5546"/><rect x="465.75" y="312.6" width="1.9" height="4.2" rx="0.5" fill="#cf5560"/><rect x="466.05" y="316.6" width="1.3" height="3.2" fill="#dcc4bb"/><path d="M475.8 320.6V290" stroke="#8f958d" stroke-width="1.7"/><path d="M475.8 303L470.8 291M475.8 301.5L480.20000000000005 291" stroke="#8f958d" stroke-width="0.9" fill="none"/><rect x="466.40000000000003" y="261.5" width="18.4" height="34" rx="8.5" ry="9" fill="#58ad3b"/><circle cx="474.7" cy="281.7" r="2.6" fill="#7bca5b"/><circle cx="474.7" cy="292.3" r="1.6" fill="#4a9a32"/><circle cx="475.8" cy="284.2" r="2.4" fill="#4c9f33"/><circle cx="474.6" cy="266.6" r="2.1" fill="#63b944"/><circle cx="478.1" cy="282.9" r="1.9" fill="#7bca5b"/><circle cx="478.5" cy="283.7" r="1.5" fill="#4c9f33"/><circle cx="481.8" cy="263.8" r="1.3" fill="#5cb33e"/><circle cx="477.5" cy="289.5" r="1.8" fill="#55a93a"/><circle cx="482.0" cy="280.2" r="2.2" fill="#7bca5b"/><circle cx="478.5" cy="276.1" r="2.1" fill="#4a9a32"/><circle cx="467.8" cy="270.6" r="2.4" fill="#55a93a"/><circle cx="471.6" cy="264.0" r="2.4" fill="#7bca5b"/><circle cx="468.2" cy="272.0" r="1.4" fill="#4c9f33"/><circle cx="470.1" cy="294.3" r="2.0" fill="#63b944"/><circle cx="473.7" cy="264.1" r="2.2" fill="#4a9a32"/><circle cx="478.9" cy="273.6" r="1.7" fill="#4c9f33"/><circle cx="484.3" cy="288.8" r="1.5" fill="#5cb33e"/><circle cx="479.5" cy="261.9" r="2.0" fill="#7bca5b"/><circle cx="469.5" cy="281.6" r="1.9" fill="#5cb33e"/><circle cx="484.7" cy="289.2" r="1.9" fill="#7bca5b"/><circle cx="468.4" cy="276.6" r="1.6" fill="#6cc04c"/><circle cx="477.3" cy="297.4" r="1.3" fill="#5cb33e"/><circle cx="473.6" cy="292.3" r="2.2" fill="#4c9f33"/><circle cx="467.0" cy="266.8" r="1.9" fill="#4c9f33"/><circle cx="480.7" cy="273.3" r="1.7" fill="#4c9f33"/><circle cx="467.6" cy="269.0" r="2.2" fill="#4c9f33"/><circle cx="477.5" cy="274.9" r="1.9" fill="#55a93a"/><circle cx="475.3" cy="282.2" r="2.5" fill="#5cb33e"/><circle cx="478.0" cy="272.7" r="1.6" fill="#55a93a"/><circle cx="470.9" cy="268.3" r="2.3" fill="#55a93a"/><circle cx="469.9" cy="295.7" r="2.5" fill="#55a93a"/><circle cx="468.3" cy="279.9" r="1.7" fill="#63b944"/><circle cx="479.4" cy="270.8" r="2.5" fill="#55a93a"/><circle cx="475.4" cy="280.2" r="2.6" fill="#4c9f33"/><circle cx="468.6" cy="278.8" r="2.2" fill="#55a93a"/><circle cx="477.7" cy="271.6" r="2.6" fill="#5cb33e"/><circle cx="480.3" cy="264.0" r="1.9" fill="#5cb33e"/><circle cx="467.3" cy="267.8" r="1.8" fill="#55a93a"/><circle cx="468.8" cy="277.7" r="1.8" fill="#63b944"/><circle cx="479.2" cy="282.5" r="1.5" fill="#4c9f33"/><circle cx="483.6" cy="278.6" r="1.8" fill="#6cc04c"/><circle cx="478.2" cy="278.9" r="2.3" fill="#6cc04c"/><circle cx="468.8" cy="264.1" r="1.9" fill="#6cc04c"/><circle cx="480.1" cy="293.9" r="2.3" fill="#63b944"/><circle cx="472.6" cy="264.6" r="2.0" fill="#4c9f33"/><circle cx="482.6" cy="276.5" r="2.4" fill="#4a9a32"/><circle cx="475.6" cy="262.0" r="2.2" fill="#7bca5b"/><circle cx="477.2" cy="283.4" r="1.4" fill="#63b944"/><circle cx="468.4" cy="270.8" r="1.9" fill="#6cc04c"/><circle cx="473.5" cy="288.0" r="2.1" fill="#7bca5b"/><circle cx="474.9" cy="281.0" r="2.0" fill="#55a93a"/><circle cx="466.8" cy="283.1" r="2.0" fill="#5cb33e"/><circle cx="480.9" cy="285.3" r="2.0" fill="#4c9f33"/><circle cx="473.1" cy="266.7" r="2.2" fill="#55a93a"/><circle cx="469.4" cy="294.1" r="2.2" fill="#7bca5b"/><circle cx="475.6" cy="270.2" r="1.9" fill="#6cc04c"/><circle cx="469.9" cy="277.0" r="2.4" fill="#5cb33e"/><circle cx="482.7" cy="275.3" r="2.1" fill="#6cc04c"/><circle cx="470.1" cy="266.3" r="1.8" fill="#4a9a32"/><circle cx="468.3" cy="278.5" r="2.6" fill="#4a9a32"/><circle cx="474.0" cy="284.0" r="2.0" fill="#6cc04c"/><circle cx="479.7" cy="291.8" r="2.2" fill="#6cc04c"/><circle cx="479.5" cy="282.0" r="1.7" fill="#4a9a32"/><circle cx="476.8" cy="284.6" r="1.9" fill="#5cb33e"/><circle cx="470.7" cy="266.6" r="1.4" fill="#63b944"/><circle cx="468.4" cy="265.4" r="2.0" fill="#63b944"/><circle cx="481.4" cy="296.0" r="2.3" fill="#5cb33e"/><circle cx="481.7" cy="270.7" r="2.3" fill="#4a9a32"/><circle cx="475.1" cy="287.2" r="1.6" fill="#6cc04c"/><circle cx="480.8" cy="280.9" r="2.6" fill="#55a93a"/><circle cx="477.8" cy="288.7" r="1.9" fill="#4a9a32"/><circle cx="479.4" cy="269.6" r="1.9" fill="#63b944"/><circle cx="473.5" cy="277.7" r="1.6" fill="#4c9f33"/><circle cx="473.3" cy="282.0" r="2.5" fill="#4a9a32"/><circle cx="481.6" cy="273.9" r="1.8" fill="#5cb33e"/><circle cx="468.1" cy="292.7" r="2.4" fill="#63b944"/><circle cx="468.5" cy="270.2" r="1.8" fill="#4c9f33"/><circle cx="484.6" cy="280.8" r="2.4" fill="#6cc04c"/><circle cx="471.1" cy="287.4" r="1.3" fill="#55a93a"/><circle cx="467.8" cy="277.4" r="2.1" fill="#4a9a32"/><circle cx="471.4" cy="294.6" r="1.6" fill="#4a9a32"/><circle cx="467.4" cy="290.3" r="1.5" fill="#6cc04c"/><circle cx="479.1" cy="294.5" r="2.0" fill="#55a93a"/><circle cx="483.1" cy="280.2" r="2.2" fill="#7bca5b"/><circle cx="484.0" cy="279.2" r="2.6" fill="#4c9f33"/><circle cx="484.6" cy="305.2" r="1" fill="#4a4a3a"/><path d="M483.70000000000005 306.4Q484.6 305.6 485.5 306.4L485.8 314.5L485.1 316H484.1L483.40000000000003 314.5Z" fill="#479a45"/><rect x="484.0" y="315.6" width="1.2" height="4.6" fill="#3a3a36"/><rect x="489.6" y="321.5" width="44.5" height="10.4" fill="#1b1b1b"/><path d="M511.5 300.6V321.5" stroke="#8496a6" stroke-width="0.8"/><path d="M505.3 299.70000000000005L510.9 296.6H512.1L517.7 299.70000000000005V301.40000000000003H505.3Z" fill="#b01d2f"/><path d="M508.2 313.5H514.8" stroke="#3a3d42" stroke-width="1"/><path d="M511.5 313.5V321.5" stroke="#3a3d42" stroke-width="1"/><path d="M505.2 308.3V321.5M507.8 316.1V321.5" stroke="#57787a" stroke-width="0.85" fill="none"/><rect x="505.2" y="314.9" width="2.6" height="1.7" fill="#eef0f0"/><path d="M517.8 308.3V321.5M515.2 316.1V321.5" stroke="#57787a" stroke-width="0.85" fill="none"/><rect x="515.2" y="314.9" width="2.6" height="1.7" fill="#eef0f0"/><g clip-path="url(#bc5349)"><clipPath id="bc5349"><rect x="534.9" y="321.3" width="3.5" height="10.6"/></clipPath><rect x="534.9" y="321.3" width="3.5" height="10.6" fill="#f4f4f4"/><path d="M535.4 318.3L537.9 320.7V322.4L535.4 320.0Z" fill="#1a1a1a"/><path d="M535.4 321.6L537.9 324.0V325.7L535.4 323.3Z" fill="#1a1a1a"/><path d="M535.4 324.9L537.9 327.3V329.0L535.4 326.6Z" fill="#1a1a1a"/><path d="M535.4 328.2L537.9 330.6V332.3L535.4 329.9Z" fill="#1a1a1a"/><path d="M535.4 331.5L537.9 333.9V335.6L535.4 333.2Z" fill="#1a1a1a"/><rect x="534.9" y="318" width="3.5" height="3.3" fill="#dbd6cd" opacity="0"/></g><ellipse cx="535.4" cy="312.6" rx="2.5" ry="1.9" fill="#a8c8a0"/><circle cx="534.0" cy="310.8" r="0.9" fill="#4f8a4a"/><circle cx="536.8" cy="310.8" r="0.9" fill="#4f8a4a"/><path d="M532.6 313.8H538.2L537.6 321H533.2Z" fill="#c8cec6"/><rect x="539.2" y="320.3" width="25.2" height="11.6" fill="#c42127"/><circle cx="549.9" cy="323.6" r="1.45" fill="#f8c2ba"/><circle cx="553.6999999999999" cy="323.6" r="1.45" fill="#f8c2ba"/><circle cx="551.8" cy="325.9" r="2.5" fill="#f8c2ba"/><circle cx="550.5999999999999" cy="325.6" r="0.55" fill="#c42127"/><circle cx="553.0" cy="325.6" r="0.55" fill="#c42127"/><circle cx="551.8" cy="327" r="0.5" fill="#c42127"/><path d="M548.8 327.6Q551.8 333.4 554.8 327.6Q551.8 330.6 548.8 327.6Z" fill="#f8c2ba"/><rect x="542.5" y="317.5" width="3.2" height="3.5" fill="#111"/><rect x="557.1" y="317.5" width="3.2" height="3.5" fill="#111"/><rect x="541.0" y="294" width="20.8" height="25.6" rx="2" fill="#f3f3f5"/><rect x="544.2" y="295.1" width="14.4" height="2" fill="#1d1d2b"/><rect x="542.6" y="299.0" width="17.6" height="11.4" fill="#262a57"/><path d="M551.4 299.0v11.4" stroke="#f1f1f3" stroke-width="0.8"/><rect x="542.6" y="315.4" width="3" height="1.2" fill="#cfcfd4"/><rect x="557.2" y="315.4" width="3" height="1.2" fill="#cfcfd4"/><rect x="546.5" y="317" width="9.8" height="1.4" fill="#d5d5da"/><rect x="539.3" y="298.2" width="1.3" height="4.8" rx="0.5" fill="#555a66"/><rect x="562.2" y="298.2" width="1.3" height="4.8" rx="0.5" fill="#555a66"/><path d="M565.0 320.7Q567.4 319.4 569.2 319Q571.0 315.6 572.8 319Q574.6 319.4 577.0 320.7Z" fill="#62a652"/><path d="M425.5 332V347" stroke="#c9c3b8" stroke-width="0.5"/><path d="M458 332V347" stroke="#c9c3b8" stroke-width="0.5"/><path d="M470 332V347" stroke="#c9c3b8" stroke-width="0.5"/><path d="M480 332V347" stroke="#c9c3b8" stroke-width="0.5"/><path d="M489.6 332V347" stroke="#c9c3b8" stroke-width="0.5"/><path d="M534.5 332V347" stroke="#c9c3b8" stroke-width="0.5"/><path d="M539 332V347" stroke="#c9c3b8" stroke-width="0.5"/><path d="M564.4 332V347" stroke="#c9c3b8" stroke-width="0.5"/><text x="441.5" y="338" class="dn" text-anchor="middle">15'</text><text x="441.5" y="343.6" class="dl" text-anchor="middle">Outdoor dining</text><text x="464" y="338" class="dn" text-anchor="middle">8'</text><text x="464" y="343.6" class="dl" text-anchor="middle">Sidewalk</text><text x="475" y="338" class="dn" text-anchor="middle">4'</text><text x="485" y="338" class="dn" text-anchor="middle">4'</text><text x="511.5" y="338" class="dn" text-anchor="middle">23'</text><text x="511.5" y="343.6" class="dl" text-anchor="middle">Outdoor dining</text><text x="537" y="338" class="dn" text-anchor="middle">2'</text><text x="551.8" y="338" class="dn" text-anchor="middle">12'</text><text x="551.8" y="343.6" class="dl" text-anchor="middle">Bus lane</text><text x="570" y="338" class="dn" text-anchor="middle">5'</text></g><clipPath id="p579"><rect x="579.3" y="219.8" width="188.70000000000005" height="127.6"/></clipPath><g clip-path="url(#p579)"><rect x="579.3" y="219" width="188.70000000000005" height="129" fill="url(#sk0)"/><circle cx="502.4" cy="246.9" r="10.5" fill="#b3d4e6"/><circle cx="517.2" cy="248.3" r="6.3" fill="#b3d4e6"/><circle cx="532.9" cy="248.0" r="8.0" fill="#b3d4e6"/><circle cx="492.9" cy="247.6" r="4.0" fill="#b3d4e6"/><circle cx="524.4" cy="248.0" r="4.2" fill="#b3d4e6"/><circle cx="551.1" cy="246.9" r="10.5" fill="#b3d4e6"/><circle cx="565.9" cy="248.3" r="6.3" fill="#b3d4e6"/><circle cx="581.6" cy="248.0" r="8.0" fill="#b3d4e6"/><circle cx="541.6" cy="247.6" r="4.0" fill="#b3d4e6"/><circle cx="573.1" cy="248.0" r="4.2" fill="#b3d4e6"/><circle cx="599.8" cy="246.9" r="10.5" fill="#b3d4e6"/><circle cx="614.6" cy="248.3" r="6.3" fill="#b3d4e6"/><circle cx="630.3" cy="248.0" r="8.0" fill="#b3d4e6"/><circle cx="590.3" cy="247.6" r="4.0" fill="#b3d4e6"/><circle cx="621.8" cy="248.0" r="4.2" fill="#b3d4e6"/><circle cx="648.5" cy="246.9" r="10.5" fill="#b3d4e6"/><circle cx="663.3" cy="248.3" r="6.3" fill="#b3d4e6"/><circle cx="679.0" cy="248.0" r="8.0" fill="#b3d4e6"/><circle cx="639.0" cy="247.6" r="4.0" fill="#b3d4e6"/><circle cx="670.5" cy="248.0" r="4.2" fill="#b3d4e6"/><circle cx="697.2" cy="246.9" r="10.5" fill="#b3d4e6"/><circle cx="712.0" cy="248.3" r="6.3" fill="#b3d4e6"/><circle cx="727.7" cy="248.0" r="8.0" fill="#b3d4e6"/><circle cx="687.7" cy="247.6" r="4.0" fill="#b3d4e6"/><circle cx="719.2" cy="248.0" r="4.2" fill="#b3d4e6"/><circle cx="745.9" cy="246.9" r="10.5" fill="#b3d4e6"/><circle cx="760.7" cy="248.3" r="6.3" fill="#b3d4e6"/><circle cx="776.4" cy="248.0" r="8.0" fill="#b3d4e6"/><circle cx="736.4" cy="247.6" r="4.0" fill="#b3d4e6"/><circle cx="767.9" cy="248.0" r="4.2" fill="#b3d4e6"/><circle cx="794.6" cy="246.9" r="10.5" fill="#b3d4e6"/><circle cx="809.4" cy="248.3" r="6.3" fill="#b3d4e6"/><circle cx="825.1" cy="248.0" r="8.0" fill="#b3d4e6"/><circle cx="785.1" cy="247.6" r="4.0" fill="#b3d4e6"/><circle cx="816.6" cy="248.0" r="4.2" fill="#b3d4e6"/><rect x="579.3" y="245" width="188.70000000000005" height="90" fill="url(#sk1)"/><g opacity="0.75"><circle cx="526.4" cy="289.0" r="10.5" fill="#b4d4e4"/><circle cx="541.2" cy="290.4" r="6.3" fill="#b4d4e4"/><circle cx="556.9" cy="290.1" r="8.0" fill="#b4d4e4"/><circle cx="516.9" cy="289.7" r="4.0" fill="#b4d4e4"/><circle cx="548.4" cy="290.1" r="4.2" fill="#b4d4e4"/><circle cx="575.1" cy="289.0" r="10.5" fill="#b4d4e4"/><circle cx="589.9" cy="290.4" r="6.3" fill="#b4d4e4"/><circle cx="605.6" cy="290.1" r="8.0" fill="#b4d4e4"/><circle cx="565.6" cy="289.7" r="4.0" fill="#b4d4e4"/><circle cx="597.1" cy="290.1" r="4.2" fill="#b4d4e4"/><circle cx="623.8" cy="289.0" r="10.5" fill="#b4d4e4"/><circle cx="638.6" cy="290.4" r="6.3" fill="#b4d4e4"/><circle cx="654.3" cy="290.1" r="8.0" fill="#b4d4e4"/><circle cx="614.3" cy="289.7" r="4.0" fill="#b4d4e4"/><circle cx="645.8" cy="290.1" r="4.2" fill="#b4d4e4"/><circle cx="672.5" cy="289.0" r="10.5" fill="#b4d4e4"/><circle cx="687.3" cy="290.4" r="6.3" fill="#b4d4e4"/><circle cx="703.0" cy="290.1" r="8.0" fill="#b4d4e4"/><circle cx="663.0" cy="289.7" r="4.0" fill="#b4d4e4"/><circle cx="694.5" cy="290.1" r="4.2" fill="#b4d4e4"/><circle cx="721.2" cy="289.0" r="10.5" fill="#b4d4e4"/><circle cx="736.0" cy="290.4" r="6.3" fill="#b4d4e4"/><circle cx="751.7" cy="290.1" r="8.0" fill="#b4d4e4"/><circle cx="711.7" cy="289.7" r="4.0" fill="#b4d4e4"/><circle cx="743.2" cy="290.1" r="4.2" fill="#b4d4e4"/><circle cx="769.9" cy="289.0" r="10.5" fill="#b4d4e4"/><circle cx="784.7" cy="290.4" r="6.3" fill="#b4d4e4"/><circle cx="800.4" cy="290.1" r="8.0" fill="#b4d4e4"/><circle cx="760.4" cy="289.7" r="4.0" fill="#b4d4e4"/><circle cx="791.9" cy="290.1" r="4.2" fill="#b4d4e4"/><rect x="579.3" y="286.5" width="188.70000000000005" height="40" fill="url(#sk2)"/></g><rect x="579.3" y="320.4" width="188.70000000000005" height="12" fill="#dbd6cd"/><rect x="579.3" y="332" width="188.70000000000005" height="16" fill="#d6d0c6"/><rect x="579.3" y="249.6" width="37.90000000000007" height="2" fill="#fff"/><rect x="579.3" y="251.4" width="37.30000000000007" height="69.60000000000001" fill="#34608f"/><rect x="585.4" y="259.1" width="7.0" height="7.0" fill="#2a2450" stroke="#e8e8ee" stroke-width="1"/><rect x="597.5" y="256.6" width="13.1" height="18.0" fill="#2a2450" stroke="#e8e8ee" stroke-width="1"/><path d="M604.0 256.6V274.6M597.5 265.6H610.5" stroke="#e8e8ee" stroke-width="0.9"/><rect x="588.2" y="291.1" width="22.4" height="23" fill="#2a2450" stroke="#e8e8ee" stroke-width="1"/><path d="M599.3 291.1v23" stroke="#e8e8ee" stroke-width="0.9"/><path d="M586.9 281.1H611.8L613.3 290.6H585.4Z" fill="#e9e4dc"/><rect x="579.3" y="320.5" width="37.7" height="11.0" fill="#2b2523"/><path d="M634.9 297.4V320" stroke="#8496a6" stroke-width="0.8"/><path d="M628.6999999999999 296.5L634.3 293.4H635.5L641.1 296.5V298.2H628.6999999999999Z" fill="#b01d2f"/><path d="M631.6 312H638.1999999999999" stroke="#3a3d42" stroke-width="1"/><path d="M634.9 312V320" stroke="#3a3d42" stroke-width="1"/><path d="M628.6 306.8V320M631.1999999999999 314.6V320" stroke="#57787a" stroke-width="0.85" fill="none"/><rect x="628.6" y="313.4" width="2.6" height="1.7" fill="#eef0f0"/><path d="M641.1999999999999 306.8V320M638.6 314.6V320" stroke="#57787a" stroke-width="0.85" fill="none"/><rect x="638.6" y="313.4" width="2.6" height="1.7" fill="#eef0f0"/><circle cx="658.6" cy="305.6" r="1.05" fill="#5a4a44"/><rect x="657.5500000000001" y="306.6" width="2.1" height="7.4" rx="0.6" fill="#666b72"/><rect x="657.8000000000001" y="313.6" width="1.6" height="6.6" fill="#8d9298"/><circle cx="662.3000000000001" cy="311.8" r="0.9" fill="#7a5546"/><rect x="661.35" y="312.6" width="1.9" height="4.2" rx="0.5" fill="#cf5560"/><rect x="661.65" y="316.6" width="1.3" height="3.2" fill="#dcc4bb"/><path d="M672.0 320.6V290" stroke="#8f958d" stroke-width="1.7"/><path d="M672.0 303L667.0 291M672.0 301.5L676.4 291" stroke="#8f958d" stroke-width="0.9" fill="none"/><rect x="662.5999999999999" y="261.5" width="18.4" height="34" rx="8.5" ry="9" fill="#58ad3b"/><circle cx="670.9" cy="281.7" r="2.6" fill="#7bca5b"/><circle cx="670.9" cy="292.3" r="1.6" fill="#4a9a32"/><circle cx="672.0" cy="284.2" r="2.4" fill="#4c9f33"/><circle cx="670.8" cy="266.6" r="2.1" fill="#63b944"/><circle cx="674.3" cy="282.9" r="1.9" fill="#7bca5b"/><circle cx="674.7" cy="283.7" r="1.5" fill="#4c9f33"/><circle cx="678.0" cy="263.8" r="1.3" fill="#5cb33e"/><circle cx="673.7" cy="289.5" r="1.8" fill="#55a93a"/><circle cx="678.2" cy="280.2" r="2.2" fill="#7bca5b"/><circle cx="674.7" cy="276.1" r="2.1" fill="#4a9a32"/><circle cx="664.0" cy="270.6" r="2.4" fill="#55a93a"/><circle cx="667.8" cy="264.0" r="2.4" fill="#7bca5b"/><circle cx="664.4" cy="272.0" r="1.4" fill="#4c9f33"/><circle cx="666.3" cy="294.3" r="2.0" fill="#63b944"/><circle cx="669.9" cy="264.1" r="2.2" fill="#4a9a32"/><circle cx="675.1" cy="273.6" r="1.7" fill="#4c9f33"/><circle cx="680.5" cy="288.8" r="1.5" fill="#5cb33e"/><circle cx="675.7" cy="261.9" r="2.0" fill="#7bca5b"/><circle cx="665.7" cy="281.6" r="1.9" fill="#5cb33e"/><circle cx="680.9" cy="289.2" r="1.9" fill="#7bca5b"/><circle cx="664.6" cy="276.6" r="1.6" fill="#6cc04c"/><circle cx="673.5" cy="297.4" r="1.3" fill="#5cb33e"/><circle cx="669.8" cy="292.3" r="2.2" fill="#4c9f33"/><circle cx="663.2" cy="266.8" r="1.9" fill="#4c9f33"/><circle cx="676.9" cy="273.3" r="1.7" fill="#4c9f33"/><circle cx="663.8" cy="269.0" r="2.2" fill="#4c9f33"/><circle cx="673.7" cy="274.9" r="1.9" fill="#55a93a"/><circle cx="671.5" cy="282.2" r="2.5" fill="#5cb33e"/><circle cx="674.2" cy="272.7" r="1.6" fill="#55a93a"/><circle cx="667.1" cy="268.3" r="2.3" fill="#55a93a"/><circle cx="666.1" cy="295.7" r="2.5" fill="#55a93a"/><circle cx="664.5" cy="279.9" r="1.7" fill="#63b944"/><circle cx="675.6" cy="270.8" r="2.5" fill="#55a93a"/><circle cx="671.6" cy="280.2" r="2.6" fill="#4c9f33"/><circle cx="664.8" cy="278.8" r="2.2" fill="#55a93a"/><circle cx="673.9" cy="271.6" r="2.6" fill="#5cb33e"/><circle cx="676.5" cy="264.0" r="1.9" fill="#5cb33e"/><circle cx="663.5" cy="267.8" r="1.8" fill="#55a93a"/><circle cx="665.0" cy="277.7" r="1.8" fill="#63b944"/><circle cx="675.4" cy="282.5" r="1.5" fill="#4c9f33"/><circle cx="679.8" cy="278.6" r="1.8" fill="#6cc04c"/><circle cx="674.4" cy="278.9" r="2.3" fill="#6cc04c"/><circle cx="665.0" cy="264.1" r="1.9" fill="#6cc04c"/><circle cx="676.3" cy="293.9" r="2.3" fill="#63b944"/><circle cx="668.8" cy="264.6" r="2.0" fill="#4c9f33"/><circle cx="678.8" cy="276.5" r="2.4" fill="#4a9a32"/><circle cx="671.8" cy="262.0" r="2.2" fill="#7bca5b"/><circle cx="673.4" cy="283.4" r="1.4" fill="#63b944"/><circle cx="664.6" cy="270.8" r="1.9" fill="#6cc04c"/><circle cx="669.7" cy="288.0" r="2.1" fill="#7bca5b"/><circle cx="671.1" cy="281.0" r="2.0" fill="#55a93a"/><circle cx="663.0" cy="283.1" r="2.0" fill="#5cb33e"/><circle cx="677.1" cy="285.3" r="2.0" fill="#4c9f33"/><circle cx="669.3" cy="266.7" r="2.2" fill="#55a93a"/><circle cx="665.6" cy="294.1" r="2.2" fill="#7bca5b"/><circle cx="671.8" cy="270.2" r="1.9" fill="#6cc04c"/><circle cx="666.1" cy="277.0" r="2.4" fill="#5cb33e"/><circle cx="678.9" cy="275.3" r="2.1" fill="#6cc04c"/><circle cx="666.3" cy="266.3" r="1.8" fill="#4a9a32"/><circle cx="664.5" cy="278.5" r="2.6" fill="#4a9a32"/><circle cx="670.2" cy="284.0" r="2.0" fill="#6cc04c"/><circle cx="675.9" cy="291.8" r="2.2" fill="#6cc04c"/><circle cx="675.7" cy="282.0" r="1.7" fill="#4a9a32"/><circle cx="673.0" cy="284.6" r="1.9" fill="#5cb33e"/><circle cx="666.9" cy="266.6" r="1.4" fill="#63b944"/><circle cx="664.6" cy="265.4" r="2.0" fill="#63b944"/><circle cx="677.6" cy="296.0" r="2.3" fill="#5cb33e"/><circle cx="677.9" cy="270.7" r="2.3" fill="#4a9a32"/><circle cx="671.3" cy="287.2" r="1.6" fill="#6cc04c"/><circle cx="677.0" cy="280.9" r="2.6" fill="#55a93a"/><circle cx="674.0" cy="288.7" r="1.9" fill="#4a9a32"/><circle cx="675.6" cy="269.6" r="1.9" fill="#63b944"/><circle cx="669.7" cy="277.7" r="1.6" fill="#4c9f33"/><circle cx="669.5" cy="282.0" r="2.5" fill="#4a9a32"/><circle cx="677.8" cy="273.9" r="1.8" fill="#5cb33e"/><circle cx="664.3" cy="292.7" r="2.4" fill="#63b944"/><circle cx="664.7" cy="270.2" r="1.8" fill="#4c9f33"/><circle cx="680.8" cy="280.8" r="2.4" fill="#6cc04c"/><circle cx="667.3" cy="287.4" r="1.3" fill="#55a93a"/><circle cx="664.0" cy="277.4" r="2.1" fill="#4a9a32"/><circle cx="667.6" cy="294.6" r="1.6" fill="#4a9a32"/><circle cx="663.6" cy="290.3" r="1.5" fill="#6cc04c"/><circle cx="675.3" cy="294.5" r="2.0" fill="#55a93a"/><circle cx="679.3" cy="280.2" r="2.2" fill="#7bca5b"/><circle cx="680.2" cy="279.2" r="2.6" fill="#4c9f33"/><circle cx="681.4" cy="305.2" r="1" fill="#4a4a3a"/><path d="M680.5 306.4Q681.4 305.6 682.3 306.4L682.6 314.5L681.9 316H680.9L680.1999999999999 314.5Z" fill="#479a45"/><rect x="680.8" y="315.6" width="1.2" height="4.6" fill="#3a3a36"/><rect x="687" y="321.5" width="18.3" height="10.4" fill="#1b1b1b"/><path d="M696.1 299V321.5" stroke="#8496a6" stroke-width="0.8"/><path d="M689.9 298.1L695.5 295H696.7L702.3000000000001 298.1V299.8H689.9Z" fill="#b01d2f"/><path d="M692.8000000000001 313.5H699.4" stroke="#3a3d42" stroke-width="1"/><path d="M696.1 313.5V321.5" stroke="#3a3d42" stroke-width="1"/><path d="M689.8000000000001 308.3V321.5M692.4 316.1V321.5" stroke="#57787a" stroke-width="0.85" fill="none"/><rect x="689.8" y="314.9" width="2.6" height="1.7" fill="#eef0f0"/><path d="M702.4 308.3V321.5M699.8000000000001 316.1V321.5" stroke="#57787a" stroke-width="0.85" fill="none"/><rect x="699.8" y="314.9" width="2.6" height="1.7" fill="#eef0f0"/><circle cx="690.4" cy="307.8" r="1" fill="#5a4a40"/><path d="M690.4 308.8V315.2H693" stroke="#3f8f86" stroke-width="1.5" fill="none"/><circle cx="701.6" cy="307.8" r="1" fill="#5a4a40"/><path d="M701.6 308.8V315.2H699" stroke="#3f8f86" stroke-width="1.5" fill="none"/><g clip-path="url(#bc7054)"><clipPath id="bc7054"><rect x="705.4" y="321.3" width="4.2" height="10.6"/></clipPath><rect x="705.4" y="321.3" width="4.2" height="10.6" fill="#f4f4f4"/><path d="M705.9 318.3L709.1 320.7V322.4L705.9 320.0Z" fill="#1a1a1a"/><path d="M705.9 321.6L709.1 324.0V325.7L705.9 323.3Z" fill="#1a1a1a"/><path d="M705.9 324.9L709.1 327.3V329.0L705.9 326.6Z" fill="#1a1a1a"/><path d="M705.9 328.2L709.1 330.6V332.3L705.9 329.9Z" fill="#1a1a1a"/><path d="M705.9 331.5L709.1 333.9V335.6L705.9 333.2Z" fill="#1a1a1a"/><rect x="705.4" y="318" width="4.2" height="3.3" fill="#dbd6cd" opacity="0"/></g><ellipse cx="707.0" cy="312.6" rx="3.1" ry="1.9" fill="#a8c8a0"/><circle cx="705.6" cy="310.8" r="0.9" fill="#4f8a4a"/><circle cx="708.4" cy="310.8" r="0.9" fill="#4f8a4a"/><path d="M703.6 313.8H710.4L709.8 321H704.2Z" fill="#c8cec6"/><rect x="710.6" y="320.2" width="27.6" height="11.6" fill="#c42127"/><circle cx="722.5" cy="323.6" r="1.45" fill="#f8c2ba"/><circle cx="726.3" cy="323.6" r="1.45" fill="#f8c2ba"/><circle cx="724.4" cy="325.9" r="2.5" fill="#f8c2ba"/><circle cx="723.1999999999999" cy="325.6" r="0.55" fill="#c42127"/><circle cx="725.6" cy="325.6" r="0.55" fill="#c42127"/><circle cx="724.4" cy="327" r="0.5" fill="#c42127"/><path d="M721.4 327.6Q724.4 333.4 727.4 327.6Q724.4 330.6 721.4 327.6Z" fill="#f8c2ba"/><rect x="714.4" y="317.5" width="3.2" height="3.5" fill="#111"/><rect x="728.8" y="317.5" width="3.2" height="3.5" fill="#111"/><rect x="712.9" y="292.4" width="20.6" height="27.2" rx="2" fill="#f3f3f5"/><rect x="716.1" y="293.5" width="14.2" height="2" fill="#1d1d2b"/><rect x="714.5" y="297.4" width="17.4" height="11.4" fill="#262a57"/><path d="M723.2 297.4v11.4" stroke="#f1f1f3" stroke-width="0.8"/><rect x="714.5" y="315.4" width="3" height="1.2" fill="#cfcfd4"/><rect x="728.9" y="315.4" width="3" height="1.2" fill="#cfcfd4"/><rect x="718.4" y="317" width="9.6" height="1.4" fill="#d5d5da"/><rect x="711.2" y="296.6" width="1.3" height="4.8" rx="0.5" fill="#555a66"/><rect x="733.9" y="296.6" width="1.3" height="4.8" rx="0.5" fill="#555a66"/><circle cx="720.2" cy="306" r="1.1" fill="#6a4a3c"/><rect x="719.1" y="307.1" width="2.2" height="6.5" fill="#c5282f"/><rect x="719.5" y="313.4" width="1.4" height="6.6" fill="#e8e0d8"/><g clip-path="url(#bc7390)"><clipPath id="bc7390"><rect x="739" y="321.3" width="3.7" height="10.6"/></clipPath><rect x="739" y="321.3" width="3.7" height="10.6" fill="#f4f4f4"/><path d="M739.5 318.3L742.2 320.7V322.4L739.5 320.0Z" fill="#1a1a1a"/><path d="M739.5 321.6L742.2 324.0V325.7L739.5 323.3Z" fill="#1a1a1a"/><path d="M739.5 324.9L742.2 327.3V329.0L739.5 326.6Z" fill="#1a1a1a"/><path d="M739.5 328.2L742.2 330.6V332.3L739.5 329.9Z" fill="#1a1a1a"/><path d="M739.5 331.5L742.2 333.9V335.6L739.5 333.2Z" fill="#1a1a1a"/><rect x="739" y="318" width="3.7" height="3.3" fill="#dbd6cd" opacity="0"/></g><rect x="739.6" y="308" width="1.6" height="13.5" rx="0.8" fill="#cfd58a"/><rect x="743" y="321.5" width="23.3" height="10.4" fill="#1b1b1b"/><path d="M754.5 324.2v4.6M753.5 327.6l1 1.4l1-1.4" stroke="#e6e6e6" stroke-width="0.5" stroke-opacity="0.6" fill="none"/><rect x="748.8" y="318" width="2.6" height="3.4" fill="#15161a"/><rect x="757.7" y="318" width="2.6" height="3.4" fill="#15161a"/><rect x="749.4" y="307.5" width="10.3" height="6" rx="1.6" fill="#eef0f4"/><path d="M750.0 311.3L750.5 308.9Q750.7 308.1 751.7 308.1H757.4Q758.4 308.1 758.6 308.9L759.1 311.3Z" fill="#252c5a"/><rect x="747.9" y="311.2" width="13.3" height="8" rx="1.9" fill="#f4f4f6"/><rect x="750.9" y="313.9" width="7.3" height="1.8" fill="#3c3836"/><path d="M617 332V347" stroke="#c9c3b8" stroke-width="0.5"/><path d="M652 332V347" stroke="#c9c3b8" stroke-width="0.5"/><path d="M666 332V347" stroke="#c9c3b8" stroke-width="0.5"/><path d="M676 332V347" stroke="#c9c3b8" stroke-width="0.5"/><path d="M687 332V347" stroke="#c9c3b8" stroke-width="0.5"/><path d="M705.3 332V347" stroke="#c9c3b8" stroke-width="0.5"/><path d="M710 332V347" stroke="#c9c3b8" stroke-width="0.5"/><path d="M738.5 332V347" stroke="#c9c3b8" stroke-width="0.5"/><path d="M742.3 332V347" stroke="#c9c3b8" stroke-width="0.5"/><text x="634.5" y="338" class="dn" text-anchor="middle">15'</text><text x="634.5" y="343.6" class="dl" text-anchor="middle">Outdoor dining</text><text x="659" y="338" class="dn" text-anchor="middle">8'</text><text x="659" y="343.6" class="dl" text-anchor="middle">Sidewalk</text><text x="671" y="338" class="dn" text-anchor="middle">4'</text><text x="681.5" y="338" class="dn" text-anchor="middle">4'</text><text x="696" y="338" class="dn" text-anchor="middle">8'</text><text x="696" y="343.6" class="dl" text-anchor="middle">Parklet dining</text><text x="707.5" y="338" class="dn" text-anchor="middle">2'</text><text x="724" y="338" class="dn" text-anchor="middle">12'</text><text x="724" y="343.6" class="dl" text-anchor="middle">Shared bus/bike lane</text><text x="740.4" y="338" class="dn" text-anchor="middle">2'</text><text x="754.5" y="338" class="dn" text-anchor="middle">10'</text><text x="754.5" y="343.6" class="dl" text-anchor="middle">Drive lane</text></g>
<rect x="10" y="371.25" width="22" height="11.75" fill="#5b9bd5"/><rect x="10" y="384" width="22" height="11.5" fill="#4472c4"/><rect x="10" y="397" width="22" height="11.75" fill="#ed7d31"/><rect x="10" y="410" width="22" height="12" fill="#70ad47"/><rect x="10" y="423.25" width="22" height="11.75" fill="#ff0000"/>
<text x="10" y="363.75" class="bh" textLength="16" lengthAdjust="spacingAndGlyphs">Key:</text>
<text x="43" y="378.75" class="bt" textLength="54.5" lengthAdjust="spacingAndGlyphs">General Traffic</text>
<text x="43" y="390" class="bt" textLength="35.25" lengthAdjust="spacingAndGlyphs">Flex Zone</text>
<text x="43" y="402.5" class="bt" textLength="54.5" lengthAdjust="spacingAndGlyphs">Outdoor Dining</text>
<text x="43" y="414.5" class="bt" textLength="15.75" lengthAdjust="spacingAndGlyphs">Bike</text>
<text x="43" y="425.5" class="bt" textLength="49" lengthAdjust="spacingAndGlyphs">Mobility Lane</text>
<text x="205.75" y="370" class="bh" textLength="123.75" lengthAdjust="spacingAndGlyphs">Option 1: Mirror Version 4 Plans</text>
<text x="205.75" y="382" class="bt" textLength="102.5" lengthAdjust="spacingAndGlyphs">General Traffic Lane (10'-11')</text>
<text x="205.75" y="393.75" class="bt" textLength="60.75" lengthAdjust="spacingAndGlyphs">Bus Lane (11'-12')</text>
<text x="205.75" y="406.25" class="bt" textLength="91.25" lengthAdjust="spacingAndGlyphs">Separated Bike Lane (6')</text>
<text x="389" y="370" class="bh" textLength="119.25" lengthAdjust="spacingAndGlyphs">Option 2: Outdoor Dining As Is</text>
<text x="389" y="382" class="bt" textLength="75" lengthAdjust="spacingAndGlyphs">Mobility Lane (11'-12')</text>
<text x="389" y="393.75" class="bt" textLength="123.75" lengthAdjust="spacingAndGlyphs">Outdoor Dining incl 2' buffer (23')</text>
<text x="581" y="366.5" class="bh" textLength="137.5" lengthAdjust="spacingAndGlyphs">Option 3: Adjusted Version 4 Plans</text>
<text x="581" y="378" class="bt" textLength="92" lengthAdjust="spacingAndGlyphs">General Traffic Lane (10')</text>
<text x="581" y="390" class="bt" textLength="171.25" lengthAdjust="spacingAndGlyphs">2' buffer between mobility lane &amp; vehicle lane</text>
<text x="581" y="402" class="bt" textLength="67" lengthAdjust="spacingAndGlyphs">Mobility Lane (12')</text>
<text x="581" y="413.75" class="bt" textLength="153.75" lengthAdjust="spacingAndGlyphs">Parklet/Outdoor Dining incl 2' buffer (10')</text>
</svg>
<div class="ttl" style="left:0.3px;width:187px;top:3.5px;letter-spacing:0.5px">Existing<br>Conditions<small style="letter-spacing:0.33px;margin-top:-1px">(Pre-Pandemic)</small></div>
<div class="ttl" style="left:198px;width:190px;top:16px">Mirror V4 Plans</div>
<div class="ttl" style="left:389.3px;width:183px;top:11.2px">Pandemic<br>Response</div>
<div class="ttl" style="left:578.5px;width:191px;top:13.3px">Mobility Lane<br>with Parklets</div>
</body></html>
